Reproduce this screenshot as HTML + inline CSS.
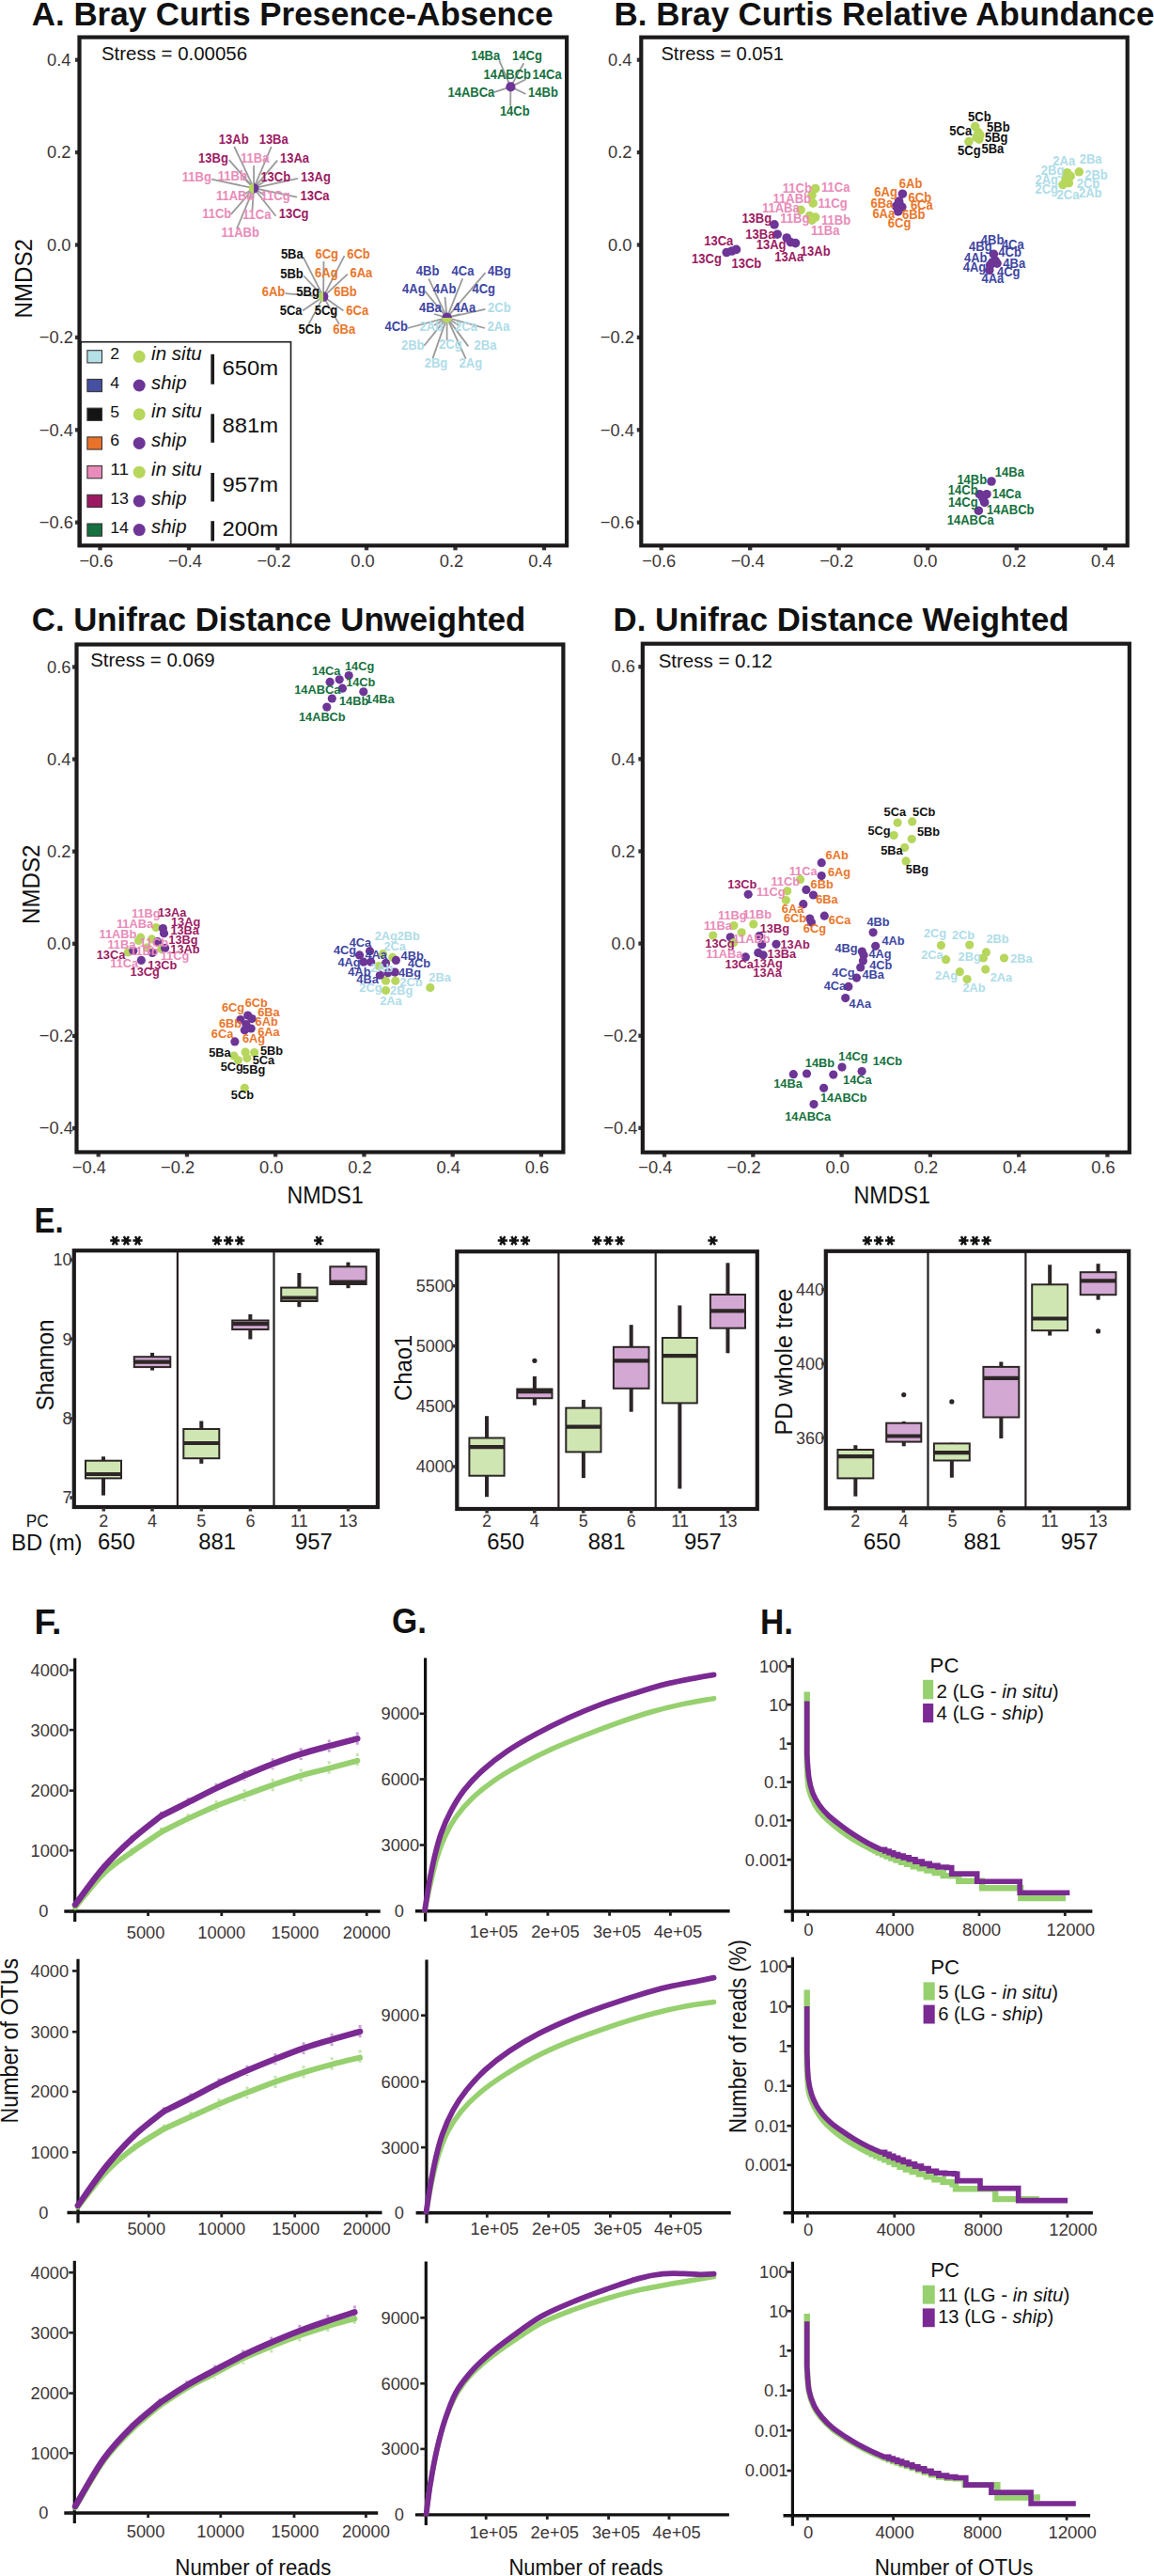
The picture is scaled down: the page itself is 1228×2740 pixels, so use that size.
<!DOCTYPE html>
<html><head><meta charset="utf-8"><title>Figure</title>
<style>html,body{margin:0;padding:0;background:#fff;}body{width:1228px;height:2740px;overflow:hidden;font-family:"Liberation Sans",sans-serif;}svg{display:block;}</style>
</head><body>
<svg width="1228" height="2740" viewBox="0 0 1228 2740" font-family="Liberation Sans, sans-serif"><rect width="1228" height="2740" fill="#fff"/><text x="33.8" y="26.6" font-size="34.6" fill="#111111" font-weight="bold" textLength="554.9" lengthAdjust="spacingAndGlyphs">A. Bray Curtis Presence-Absence</text>
<text x="108" y="64.2" font-size="20.3" fill="#111" textLength="155" lengthAdjust="spacingAndGlyphs">Stress = 0.00056</text>
<text transform="translate(34 296.3) rotate(-90)" font-size="26.5" fill="#111" text-anchor="middle" textLength="84.6" lengthAdjust="spacingAndGlyphs">NMDS2</text>
<line x1="270.1" y1="200.2" x2="249.3" y2="156" stroke="#9a9a9a" stroke-width="1.8"/>
<line x1="270.1" y1="200.2" x2="288.8" y2="156" stroke="#9a9a9a" stroke-width="1.8"/>
<line x1="270.1" y1="200.2" x2="243.8" y2="170.2" stroke="#9a9a9a" stroke-width="1.8"/>
<line x1="270.1" y1="200.2" x2="270.1" y2="175.9" stroke="#9a9a9a" stroke-width="1.8"/>
<line x1="270.1" y1="200.2" x2="295.2" y2="170.7" stroke="#9a9a9a" stroke-width="1.8"/>
<line x1="270.1" y1="200.2" x2="225" y2="190.7" stroke="#9a9a9a" stroke-width="1.8"/>
<line x1="270.1" y1="200.2" x2="316.9" y2="189.8" stroke="#9a9a9a" stroke-width="1.8"/>
<line x1="270.1" y1="200.2" x2="316" y2="209.7" stroke="#9a9a9a" stroke-width="1.8"/>
<line x1="270.1" y1="200.2" x2="245.9" y2="227.9" stroke="#9a9a9a" stroke-width="1.8"/>
<line x1="270.1" y1="200.2" x2="268.4" y2="224.5" stroke="#9a9a9a" stroke-width="1.8"/>
<line x1="270.1" y1="200.2" x2="293.5" y2="229.7" stroke="#9a9a9a" stroke-width="1.8"/>
<line x1="270.1" y1="200.2" x2="251.9" y2="243.5" stroke="#9a9a9a" stroke-width="1.8"/>
<line x1="270.1" y1="200.2" x2="259" y2="189" stroke="#9a9a9a" stroke-width="1.8"/>
<line x1="270.1" y1="200.2" x2="283" y2="192" stroke="#9a9a9a" stroke-width="1.8"/>
<line x1="270.1" y1="200.2" x2="258" y2="208" stroke="#9a9a9a" stroke-width="1.8"/>
<line x1="270.1" y1="200.2" x2="282" y2="208" stroke="#9a9a9a" stroke-width="1.8"/>
<path d="M270.1 194.9 A5.3 5.3 0 0 0 270.1 205.5 Z" fill="#b6d65c"/>
<path d="M270.1 194.9 A5.3 5.3 0 0 1 270.1 205.5 Z" fill="#6c3596"/>
<text x="248.7" y="153.4" font-size="14" fill="#9c1b63" font-weight="bold" text-anchor="middle" textLength="31.79" lengthAdjust="spacingAndGlyphs">13Ab</text>
<text x="291.2" y="153.4" font-size="14" fill="#9c1b63" font-weight="bold" text-anchor="middle" textLength="31.08" lengthAdjust="spacingAndGlyphs">13Ba</text>
<text x="227" y="172.5" font-size="14" fill="#9c1b63" font-weight="bold" text-anchor="middle" textLength="31.79" lengthAdjust="spacingAndGlyphs">13Bg</text>
<text x="271.2" y="172.5" font-size="14" fill="#e98bb9" font-weight="bold" text-anchor="middle" textLength="30.36" lengthAdjust="spacingAndGlyphs">11Ba</text>
<text x="313.5" y="173.3" font-size="14" fill="#9c1b63" font-weight="bold" text-anchor="middle" textLength="31.08" lengthAdjust="spacingAndGlyphs">13Aa</text>
<text x="209.3" y="193.3" font-size="14" fill="#e98bb9" font-weight="bold" text-anchor="middle" textLength="31.07" lengthAdjust="spacingAndGlyphs">11Bg</text>
<text x="247.4" y="192.4" font-size="14" fill="#e98bb9" font-weight="bold" text-anchor="middle" textLength="31.07" lengthAdjust="spacingAndGlyphs">11Bb</text>
<text x="293.3" y="193.3" font-size="14" fill="#9c1b63" font-weight="bold" text-anchor="middle" textLength="31.79" lengthAdjust="spacingAndGlyphs">13Cb</text>
<text x="336" y="193.3" font-size="14" fill="#9c1b63" font-weight="bold" text-anchor="middle" textLength="31.79" lengthAdjust="spacingAndGlyphs">13Ag</text>
<text x="249.8" y="213.2" font-size="14" fill="#e98bb9" font-weight="bold" text-anchor="middle" textLength="39.75" lengthAdjust="spacingAndGlyphs">11ABa</text>
<text x="293.1" y="213.2" font-size="14" fill="#e98bb9" font-weight="bold" text-anchor="middle" textLength="31.07" lengthAdjust="spacingAndGlyphs">11Cg</text>
<text x="335" y="212.8" font-size="14" fill="#9c1b63" font-weight="bold" text-anchor="middle" textLength="31.08" lengthAdjust="spacingAndGlyphs">13Ca</text>
<text x="230.7" y="232.3" font-size="14" fill="#e98bb9" font-weight="bold" text-anchor="middle" textLength="31.07" lengthAdjust="spacingAndGlyphs">11Cb</text>
<text x="273.3" y="233.1" font-size="14" fill="#e98bb9" font-weight="bold" text-anchor="middle" textLength="30.36" lengthAdjust="spacingAndGlyphs">11Ca</text>
<text x="312.6" y="232.3" font-size="14" fill="#9c1b63" font-weight="bold" text-anchor="middle" textLength="31.79" lengthAdjust="spacingAndGlyphs">13Cg</text>
<text x="255.7" y="252.2" font-size="14" fill="#e98bb9" font-weight="bold" text-anchor="middle" textLength="40.46" lengthAdjust="spacingAndGlyphs">11ABb</text>
<line x1="344.1" y1="315.6" x2="322.6" y2="273.4" stroke="#9a9a9a" stroke-width="1.8"/>
<line x1="344.1" y1="315.6" x2="344.5" y2="278" stroke="#9a9a9a" stroke-width="1.8"/>
<line x1="344.1" y1="315.6" x2="366.5" y2="272.1" stroke="#9a9a9a" stroke-width="1.8"/>
<line x1="344.1" y1="315.6" x2="323.3" y2="293.5" stroke="#9a9a9a" stroke-width="1.8"/>
<line x1="344.1" y1="315.6" x2="369.8" y2="291.6" stroke="#9a9a9a" stroke-width="1.8"/>
<line x1="344.1" y1="315.6" x2="303.5" y2="312.1" stroke="#9a9a9a" stroke-width="1.8"/>
<line x1="344.1" y1="315.6" x2="322" y2="330.6" stroke="#9a9a9a" stroke-width="1.8"/>
<line x1="344.1" y1="315.6" x2="365.5" y2="330.6" stroke="#9a9a9a" stroke-width="1.8"/>
<line x1="344.1" y1="315.6" x2="328.5" y2="344.9" stroke="#9a9a9a" stroke-width="1.8"/>
<line x1="344.1" y1="315.6" x2="361" y2="344.9" stroke="#9a9a9a" stroke-width="1.8"/>
<path d="M344.1 310.3 A5.3 5.3 0 0 0 344.1 320.9 Z" fill="#b6d65c"/>
<path d="M344.1 310.3 A5.3 5.3 0 0 1 344.1 320.9 Z" fill="#6c3596"/>
<text x="310.8" y="275.3" font-size="14" fill="#111111" font-weight="bold" text-anchor="middle" textLength="23.85" lengthAdjust="spacingAndGlyphs">5Ba</text>
<text x="347.7" y="274.7" font-size="14" fill="#e9772b" font-weight="bold" text-anchor="middle" textLength="24.56" lengthAdjust="spacingAndGlyphs">6Cg</text>
<text x="381.5" y="274.7" font-size="14" fill="#e9772b" font-weight="bold" text-anchor="middle" textLength="24.56" lengthAdjust="spacingAndGlyphs">6Cb</text>
<text x="310.5" y="295.5" font-size="14" fill="#111111" font-weight="bold" text-anchor="middle" textLength="24.56" lengthAdjust="spacingAndGlyphs">5Bb</text>
<text x="347.3" y="294.8" font-size="14" fill="#e9772b" font-weight="bold" text-anchor="middle" textLength="24.56" lengthAdjust="spacingAndGlyphs">6Ag</text>
<text x="384.4" y="294.8" font-size="14" fill="#e9772b" font-weight="bold" text-anchor="middle" textLength="23.85" lengthAdjust="spacingAndGlyphs">6Aa</text>
<text x="291" y="315" font-size="14" fill="#e9772b" font-weight="bold" text-anchor="middle" textLength="24.56" lengthAdjust="spacingAndGlyphs">6Ab</text>
<text x="327.6" y="315" font-size="14" fill="#111111" font-weight="bold" text-anchor="middle" textLength="24.56" lengthAdjust="spacingAndGlyphs">5Bg</text>
<text x="367.5" y="315" font-size="14" fill="#e9772b" font-weight="bold" text-anchor="middle" textLength="24.56" lengthAdjust="spacingAndGlyphs">6Bb</text>
<text x="309.6" y="335.1" font-size="14" fill="#111111" font-weight="bold" text-anchor="middle" textLength="23.85" lengthAdjust="spacingAndGlyphs">5Ca</text>
<text x="347" y="335.1" font-size="14" fill="#111111" font-weight="bold" text-anchor="middle" textLength="24.56" lengthAdjust="spacingAndGlyphs">5Cg</text>
<text x="380.2" y="334.5" font-size="14" fill="#e9772b" font-weight="bold" text-anchor="middle" textLength="23.85" lengthAdjust="spacingAndGlyphs">6Ca</text>
<text x="329.8" y="354.6" font-size="14" fill="#111111" font-weight="bold" text-anchor="middle" textLength="24.56" lengthAdjust="spacingAndGlyphs">5Cb</text>
<text x="366.2" y="354.6" font-size="14" fill="#e9772b" font-weight="bold" text-anchor="middle" textLength="23.85" lengthAdjust="spacingAndGlyphs">6Ba</text>
<line x1="475.6" y1="337.9" x2="456.2" y2="296.3" stroke="#9a9a9a" stroke-width="1.8"/>
<line x1="475.6" y1="337.9" x2="492.2" y2="296.3" stroke="#9a9a9a" stroke-width="1.8"/>
<line x1="475.6" y1="337.9" x2="516.5" y2="290.1" stroke="#9a9a9a" stroke-width="1.8"/>
<line x1="475.6" y1="337.9" x2="452" y2="309.5" stroke="#9a9a9a" stroke-width="1.8"/>
<line x1="475.6" y1="337.9" x2="473.5" y2="315.8" stroke="#9a9a9a" stroke-width="1.8"/>
<line x1="475.6" y1="337.9" x2="516.5" y2="328.9" stroke="#9a9a9a" stroke-width="1.8"/>
<line x1="475.6" y1="337.9" x2="434" y2="349" stroke="#9a9a9a" stroke-width="1.8"/>
<line x1="475.6" y1="337.9" x2="515.8" y2="349" stroke="#9a9a9a" stroke-width="1.8"/>
<line x1="475.6" y1="337.9" x2="451.3" y2="367.7" stroke="#9a9a9a" stroke-width="1.8"/>
<line x1="475.6" y1="337.9" x2="475.6" y2="362.2" stroke="#9a9a9a" stroke-width="1.8"/>
<line x1="475.6" y1="337.9" x2="498.4" y2="368.4" stroke="#9a9a9a" stroke-width="1.8"/>
<line x1="475.6" y1="337.9" x2="460.3" y2="381.6" stroke="#9a9a9a" stroke-width="1.8"/>
<line x1="475.6" y1="337.9" x2="495.7" y2="381.6" stroke="#9a9a9a" stroke-width="1.8"/>
<line x1="475.6" y1="337.9" x2="462" y2="334" stroke="#9a9a9a" stroke-width="1.8"/>
<line x1="475.6" y1="337.9" x2="490" y2="334" stroke="#9a9a9a" stroke-width="1.8"/>
<line x1="475.6" y1="337.9" x2="462" y2="346" stroke="#9a9a9a" stroke-width="1.8"/>
<line x1="475.6" y1="337.9" x2="488" y2="346" stroke="#9a9a9a" stroke-width="1.8"/>
<path d="M470.3 337.9 A5.3 5.3 0 0 1 480.9 337.9 Z" fill="#6c3596"/>
<path d="M470.3 337.9 A5.3 5.3 0 0 0 480.9 337.9 Z" fill="#b6d65c"/>
<text x="455.1" y="292.9" font-size="14" fill="#3e46a2" font-weight="bold" text-anchor="middle" textLength="24.56" lengthAdjust="spacingAndGlyphs">4Bb</text>
<text x="492.5" y="292.9" font-size="14" fill="#3e46a2" font-weight="bold" text-anchor="middle" textLength="23.85" lengthAdjust="spacingAndGlyphs">4Ca</text>
<text x="531.4" y="292.9" font-size="14" fill="#3e46a2" font-weight="bold" text-anchor="middle" textLength="24.56" lengthAdjust="spacingAndGlyphs">4Bg</text>
<text x="440.4" y="312.3" font-size="14" fill="#3e46a2" font-weight="bold" text-anchor="middle" textLength="24.56" lengthAdjust="spacingAndGlyphs">4Ag</text>
<text x="473.1" y="312.3" font-size="14" fill="#3e46a2" font-weight="bold" text-anchor="middle" textLength="24.56" lengthAdjust="spacingAndGlyphs">4Ab</text>
<text x="514.7" y="312.3" font-size="14" fill="#3e46a2" font-weight="bold" text-anchor="middle" textLength="24.56" lengthAdjust="spacingAndGlyphs">4Cg</text>
<text x="457.9" y="332.4" font-size="14" fill="#3e46a2" font-weight="bold" text-anchor="middle" textLength="23.85" lengthAdjust="spacingAndGlyphs">4Ba</text>
<text x="494.3" y="332.4" font-size="14" fill="#3e46a2" font-weight="bold" text-anchor="middle" textLength="23.85" lengthAdjust="spacingAndGlyphs">4Aa</text>
<text x="531.4" y="331.7" font-size="14" fill="#afdde8" font-weight="bold" text-anchor="middle" textLength="24.56" lengthAdjust="spacingAndGlyphs">2Cb</text>
<text x="421.7" y="351.8" font-size="14" fill="#3e46a2" font-weight="bold" text-anchor="middle" textLength="24.56" lengthAdjust="spacingAndGlyphs">4Cb</text>
<text x="458.9" y="351.8" font-size="14" fill="#afdde8" font-weight="bold" text-anchor="middle" textLength="24.56" lengthAdjust="spacingAndGlyphs">2Ab</text>
<text x="496" y="351.8" font-size="14" fill="#afdde8" font-weight="bold" text-anchor="middle" textLength="23.85" lengthAdjust="spacingAndGlyphs">2Ca</text>
<text x="530.5" y="351.8" font-size="14" fill="#afdde8" font-weight="bold" text-anchor="middle" textLength="23.85" lengthAdjust="spacingAndGlyphs">2Aa</text>
<text x="439.2" y="371.9" font-size="14" fill="#afdde8" font-weight="bold" text-anchor="middle" textLength="24.56" lengthAdjust="spacingAndGlyphs">2Bb</text>
<text x="479.4" y="371.2" font-size="14" fill="#afdde8" font-weight="bold" text-anchor="middle" textLength="24.56" lengthAdjust="spacingAndGlyphs">2Cg</text>
<text x="516.5" y="371.9" font-size="14" fill="#afdde8" font-weight="bold" text-anchor="middle" textLength="23.85" lengthAdjust="spacingAndGlyphs">2Ba</text>
<text x="464" y="390.6" font-size="14" fill="#afdde8" font-weight="bold" text-anchor="middle" textLength="24.56" lengthAdjust="spacingAndGlyphs">2Bg</text>
<text x="500.9" y="390.6" font-size="14" fill="#afdde8" font-weight="bold" text-anchor="middle" textLength="24.56" lengthAdjust="spacingAndGlyphs">2Ag</text>
<line x1="543.4" y1="92.4" x2="531.3" y2="64.3" stroke="#9a9a9a" stroke-width="1.8"/>
<line x1="543.4" y1="92.4" x2="557.3" y2="67.3" stroke="#9a9a9a" stroke-width="1.8"/>
<line x1="543.4" y1="92.4" x2="559.8" y2="84.3" stroke="#9a9a9a" stroke-width="1.8"/>
<line x1="543.4" y1="92.4" x2="525.8" y2="98.2" stroke="#9a9a9a" stroke-width="1.8"/>
<line x1="543.4" y1="92.4" x2="559.5" y2="100" stroke="#9a9a9a" stroke-width="1.8"/>
<line x1="543.4" y1="92.4" x2="543.2" y2="112.8" stroke="#9a9a9a" stroke-width="1.8"/>
<circle cx="543.4" cy="92.4" r="5.1" fill="#6c3596"/>
<text x="516.7" y="64.3" font-size="14" fill="#16713e" font-weight="bold" text-anchor="middle" textLength="31.08" lengthAdjust="spacingAndGlyphs">14Ba</text>
<text x="561" y="64.3" font-size="14" fill="#16713e" font-weight="bold" text-anchor="middle" textLength="31.79" lengthAdjust="spacingAndGlyphs">14Cg</text>
<text x="539.8" y="84.3" font-size="14" fill="#16713e" font-weight="bold" text-anchor="middle" textLength="50.57" lengthAdjust="spacingAndGlyphs">14ABCb</text>
<text x="582.1" y="83.9" font-size="14" fill="#16713e" font-weight="bold" text-anchor="middle" textLength="31.08" lengthAdjust="spacingAndGlyphs">14Ca</text>
<text x="501.4" y="103.3" font-size="14" fill="#16713e" font-weight="bold" text-anchor="middle" textLength="49.85" lengthAdjust="spacingAndGlyphs">14ABCa</text>
<text x="578" y="103.3" font-size="14" fill="#16713e" font-weight="bold" text-anchor="middle" textLength="31.79" lengthAdjust="spacingAndGlyphs">14Bb</text>
<text x="547.8" y="123.1" font-size="14" fill="#16713e" font-weight="bold" text-anchor="middle" textLength="31.79" lengthAdjust="spacingAndGlyphs">14Cb</text>
<rect x="86" y="363.7" width="223.5" height="216" fill="#fff" stroke="#1c1a1a" stroke-width="1.6"/>
<rect x="92.9" y="372.7" width="15.6" height="13.2" fill="#b4e0e8" stroke="#3a3434" stroke-width="1.1"/>
<text x="117.2" y="382.2" font-size="16" fill="#111" textLength="9.8" lengthAdjust="spacingAndGlyphs">2</text>
<circle cx="148.2" cy="379.3" r="6.5" fill="#b6d65c"/>
<text x="161.1" y="382.9" font-size="20.2" fill="#111" font-style="italic" textLength="53.7" lengthAdjust="spacingAndGlyphs">in situ</text>
<rect x="92.9" y="403.42" width="15.6" height="13.2" fill="#4650a0" stroke="#3a3434" stroke-width="1.1"/>
<text x="117.2" y="412.92" font-size="16" fill="#111" textLength="9.8" lengthAdjust="spacingAndGlyphs">4</text>
<circle cx="148.2" cy="410.02" r="6.5" fill="#6c3596"/>
<text x="161.1" y="413.62" font-size="20.2" fill="#111" font-style="italic" textLength="37.4" lengthAdjust="spacingAndGlyphs">ship</text>
<rect x="92.9" y="434.14" width="15.6" height="13.2" fill="#141414" stroke="#3a3434" stroke-width="1.1"/>
<text x="117.2" y="443.64" font-size="16" fill="#111" textLength="9.8" lengthAdjust="spacingAndGlyphs">5</text>
<circle cx="148.2" cy="440.74" r="6.5" fill="#b6d65c"/>
<text x="161.1" y="444.34" font-size="20.2" fill="#111" font-style="italic" textLength="53.7" lengthAdjust="spacingAndGlyphs">in situ</text>
<rect x="92.9" y="464.86" width="15.6" height="13.2" fill="#e8722a" stroke="#3a3434" stroke-width="1.1"/>
<text x="117.2" y="474.36" font-size="16" fill="#111" textLength="9.8" lengthAdjust="spacingAndGlyphs">6</text>
<circle cx="148.2" cy="471.46" r="6.5" fill="#6c3596"/>
<text x="161.1" y="475.06" font-size="20.2" fill="#111" font-style="italic" textLength="37.4" lengthAdjust="spacingAndGlyphs">ship</text>
<rect x="92.9" y="495.58" width="15.6" height="13.2" fill="#e98bbb" stroke="#3a3434" stroke-width="1.1"/>
<text x="117.2" y="505.08" font-size="16" fill="#111" textLength="19.8" lengthAdjust="spacingAndGlyphs">11</text>
<circle cx="148.2" cy="502.18" r="6.5" fill="#b6d65c"/>
<text x="161.1" y="505.78" font-size="20.2" fill="#111" font-style="italic" textLength="53.7" lengthAdjust="spacingAndGlyphs">in situ</text>
<rect x="92.9" y="526.3" width="15.6" height="13.2" fill="#9b1a62" stroke="#3a3434" stroke-width="1.1"/>
<text x="117.2" y="535.8" font-size="16" fill="#111" textLength="19.8" lengthAdjust="spacingAndGlyphs">13</text>
<circle cx="148.2" cy="532.9" r="6.5" fill="#6c3596"/>
<text x="161.1" y="536.5" font-size="20.2" fill="#111" font-style="italic" textLength="37.4" lengthAdjust="spacingAndGlyphs">ship</text>
<rect x="92.9" y="557.02" width="15.6" height="13.2" fill="#167040" stroke="#3a3434" stroke-width="1.1"/>
<text x="117.2" y="566.52" font-size="16" fill="#111" textLength="19.8" lengthAdjust="spacingAndGlyphs">14</text>
<circle cx="148.2" cy="563.62" r="6.5" fill="#6c3596"/>
<text x="161.1" y="567.22" font-size="20.2" fill="#111" font-style="italic" textLength="37.4" lengthAdjust="spacingAndGlyphs">ship</text>
<line x1="226.2" y1="376.8" x2="226.2" y2="408.7" stroke="#1c1a1a" stroke-width="3.7"/>
<text x="236.4" y="398.7" font-size="22.5" fill="#111" textLength="59.6" lengthAdjust="spacingAndGlyphs">650m</text>
<line x1="226.2" y1="440.3" x2="226.2" y2="470.8" stroke="#1c1a1a" stroke-width="3.7"/>
<text x="236.4" y="460.2" font-size="22.5" fill="#111" textLength="59.6" lengthAdjust="spacingAndGlyphs">881m</text>
<line x1="226.2" y1="503" x2="226.2" y2="533.5" stroke="#1c1a1a" stroke-width="3.7"/>
<text x="236.4" y="523" font-size="22.5" fill="#111" textLength="59.6" lengthAdjust="spacingAndGlyphs">957m</text>
<line x1="226.2" y1="554.2" x2="226.2" y2="575.5" stroke="#1c1a1a" stroke-width="3.7"/>
<text x="236.4" y="569.6" font-size="22.5" fill="#111" textLength="59.6" lengthAdjust="spacingAndGlyphs">200m</text>
<line x1="80" y1="63.7" x2="83.5" y2="63.7" stroke="#3a3434" stroke-width="4.3"/>
<text x="75.5" y="69.9" font-size="19.21" fill="#3d3636" text-anchor="end" textLength="25.44" lengthAdjust="spacingAndGlyphs">0.4</text>
<line x1="80" y1="162.1" x2="83.5" y2="162.1" stroke="#3a3434" stroke-width="4.3"/>
<text x="75.5" y="168.3" font-size="19.21" fill="#3d3636" text-anchor="end" textLength="25.44" lengthAdjust="spacingAndGlyphs">0.2</text>
<line x1="80" y1="260.5" x2="83.5" y2="260.5" stroke="#3a3434" stroke-width="4.3"/>
<text x="75.5" y="266.7" font-size="19.21" fill="#3d3636" text-anchor="end" textLength="25.44" lengthAdjust="spacingAndGlyphs">0.0</text>
<line x1="80" y1="358.9" x2="83.5" y2="358.9" stroke="#3a3434" stroke-width="4.3"/>
<text x="78" y="365.1" font-size="19.21" fill="#3d3636" text-anchor="end" textLength="36.13" lengthAdjust="spacingAndGlyphs">−0.2</text>
<line x1="80" y1="457.3" x2="83.5" y2="457.3" stroke="#3a3434" stroke-width="4.3"/>
<text x="78" y="463.5" font-size="19.21" fill="#3d3636" text-anchor="end" textLength="36.13" lengthAdjust="spacingAndGlyphs">−0.4</text>
<line x1="80" y1="555.7" x2="83.5" y2="555.7" stroke="#3a3434" stroke-width="4.3"/>
<text x="78" y="561.9" font-size="19.21" fill="#3d3636" text-anchor="end" textLength="36.13" lengthAdjust="spacingAndGlyphs">−0.6</text>
<line x1="106.5" y1="581.3" x2="106.5" y2="585.3" stroke="#3a3434" stroke-width="4.3"/>
<text x="102.5" y="602.6" font-size="19.21" fill="#3d3636" text-anchor="middle" textLength="36.13" lengthAdjust="spacingAndGlyphs">−0.6</text>
<line x1="201" y1="581.3" x2="201" y2="585.3" stroke="#3a3434" stroke-width="4.3"/>
<text x="197" y="602.6" font-size="19.21" fill="#3d3636" text-anchor="middle" textLength="36.13" lengthAdjust="spacingAndGlyphs">−0.4</text>
<line x1="295.5" y1="581.3" x2="295.5" y2="585.3" stroke="#3a3434" stroke-width="4.3"/>
<text x="291.5" y="602.6" font-size="19.21" fill="#3d3636" text-anchor="middle" textLength="36.13" lengthAdjust="spacingAndGlyphs">−0.2</text>
<line x1="390" y1="581.3" x2="390" y2="585.3" stroke="#3a3434" stroke-width="4.3"/>
<text x="386" y="602.6" font-size="19.21" fill="#3d3636" text-anchor="middle" textLength="25.44" lengthAdjust="spacingAndGlyphs">0.0</text>
<line x1="484.5" y1="581.3" x2="484.5" y2="585.3" stroke="#3a3434" stroke-width="4.3"/>
<text x="480.5" y="602.6" font-size="19.21" fill="#3d3636" text-anchor="middle" textLength="25.44" lengthAdjust="spacingAndGlyphs">0.2</text>
<line x1="579" y1="581.3" x2="579" y2="585.3" stroke="#3a3434" stroke-width="4.3"/>
<text x="575" y="602.6" font-size="19.21" fill="#3d3636" text-anchor="middle" textLength="25.44" lengthAdjust="spacingAndGlyphs">0.4</text>
<rect x="84.5" y="39.6" width="518.6" height="540.7" fill="none" stroke="#1c1a1a" stroke-width="4.2"/>
<text x="653.6" y="26.6" font-size="34.6" fill="#111111" font-weight="bold" textLength="574.86" lengthAdjust="spacingAndGlyphs">B. Bray Curtis Relative Abundance</text>
<text x="703.4" y="64.2" font-size="20.3" fill="#111" textLength="130.6" lengthAdjust="spacingAndGlyphs">Stress = 0.051</text>
<circle cx="773.2" cy="268.5" r="4.8" fill="#6c3596"/>
<circle cx="778.8" cy="267" r="4.8" fill="#6c3596"/>
<circle cx="783.5" cy="265.4" r="4.8" fill="#6c3596"/>
<circle cx="824" cy="238.9" r="4.8" fill="#6c3596"/>
<circle cx="827.2" cy="249.2" r="4.8" fill="#6c3596"/>
<circle cx="837.2" cy="253" r="4.8" fill="#6c3596"/>
<circle cx="841.2" cy="257.6" r="4.8" fill="#6c3596"/>
<circle cx="846.5" cy="258.6" r="4.8" fill="#6c3596"/>
<circle cx="867.7" cy="200.5" r="4.8" fill="#b6d65c"/>
<circle cx="864" cy="207.7" r="4.8" fill="#b6d65c"/>
<circle cx="865.2" cy="216.1" r="4.8" fill="#b6d65c"/>
<circle cx="852.1" cy="223.3" r="4.8" fill="#b6d65c"/>
<circle cx="861.5" cy="229.5" r="4.8" fill="#b6d65c"/>
<circle cx="867.7" cy="231.1" r="4.8" fill="#b6d65c"/>
<circle cx="864" cy="234.2" r="4.8" fill="#b6d65c"/>
<circle cx="960.4" cy="206.2" r="4.8" fill="#6c3596"/>
<circle cx="956.6" cy="214" r="4.8" fill="#6c3596"/>
<circle cx="953.5" cy="219.3" r="4.8" fill="#6c3596"/>
<circle cx="959.8" cy="220.2" r="4.8" fill="#6c3596"/>
<circle cx="955.7" cy="224.9" r="4.8" fill="#6c3596"/>
<circle cx="957" cy="217" r="4.8" fill="#6c3596"/>
<circle cx="1037.7" cy="134.6" r="4.8" fill="#b6d65c"/>
<circle cx="1041" cy="140.9" r="4.8" fill="#b6d65c"/>
<circle cx="1042.8" cy="143.7" r="4.8" fill="#b6d65c"/>
<circle cx="1041.9" cy="148.2" r="4.8" fill="#b6d65c"/>
<circle cx="1030.9" cy="150.6" r="4.8" fill="#b6d65c"/>
<circle cx="1039" cy="146" r="4.8" fill="#b6d65c"/>
<circle cx="1148.3" cy="182.8" r="4.8" fill="#b6d65c"/>
<circle cx="1135.6" cy="183.7" r="4.8" fill="#b6d65c"/>
<circle cx="1139.2" cy="187.4" r="4.8" fill="#b6d65c"/>
<circle cx="1137.4" cy="194.6" r="4.8" fill="#b6d65c"/>
<circle cx="1131" cy="196.5" r="4.8" fill="#b6d65c"/>
<circle cx="1134" cy="190" r="4.8" fill="#b6d65c"/>
<circle cx="1057.3" cy="270.2" r="4.8" fill="#6c3596"/>
<circle cx="1059.2" cy="277.4" r="4.8" fill="#6c3596"/>
<circle cx="1061" cy="280.2" r="4.8" fill="#6c3596"/>
<circle cx="1053.7" cy="282" r="4.8" fill="#6c3596"/>
<circle cx="1052.8" cy="287.4" r="4.8" fill="#6c3596"/>
<circle cx="1056" cy="279" r="4.8" fill="#6c3596"/>
<circle cx="1055" cy="512" r="4.8" fill="#6c3596"/>
<circle cx="1042.4" cy="525.7" r="4.8" fill="#6c3596"/>
<circle cx="1050" cy="525.7" r="4.8" fill="#6c3596"/>
<circle cx="1047.7" cy="534.4" r="4.8" fill="#6c3596"/>
<circle cx="1041.3" cy="543.2" r="4.8" fill="#6c3596"/>
<circle cx="1046" cy="530" r="4.8" fill="#6c3596"/>
<text x="848.4" y="204.6" font-size="14" fill="#e98bb9" font-weight="bold" text-anchor="middle" textLength="31.07" lengthAdjust="spacingAndGlyphs">11Cb</text>
<text x="889.3" y="203.7" font-size="14" fill="#e98bb9" font-weight="bold" text-anchor="middle" textLength="30.36" lengthAdjust="spacingAndGlyphs">11Ca</text>
<text x="842.8" y="215.5" font-size="14" fill="#e98bb9" font-weight="bold" text-anchor="middle" textLength="40.46" lengthAdjust="spacingAndGlyphs">11ABb</text>
<text x="886.1" y="221.1" font-size="14" fill="#e98bb9" font-weight="bold" text-anchor="middle" textLength="31.07" lengthAdjust="spacingAndGlyphs">11Cg</text>
<text x="830.8" y="226.4" font-size="14" fill="#e98bb9" font-weight="bold" text-anchor="middle" textLength="39.75" lengthAdjust="spacingAndGlyphs">11ABa</text>
<text x="805.3" y="236.7" font-size="14" fill="#9c1b63" font-weight="bold" text-anchor="middle" textLength="31.79" lengthAdjust="spacingAndGlyphs">13Bg</text>
<text x="845.9" y="236.7" font-size="14" fill="#e98bb9" font-weight="bold" text-anchor="middle" textLength="31.07" lengthAdjust="spacingAndGlyphs">11Bg</text>
<text x="889.6" y="238.9" font-size="14" fill="#e98bb9" font-weight="bold" text-anchor="middle" textLength="31.07" lengthAdjust="spacingAndGlyphs">11Bb</text>
<text x="808.9" y="253.9" font-size="14" fill="#9c1b63" font-weight="bold" text-anchor="middle" textLength="31.08" lengthAdjust="spacingAndGlyphs">13Ba</text>
<text x="878.2" y="249.8" font-size="14" fill="#e98bb9" font-weight="bold" text-anchor="middle" textLength="30.36" lengthAdjust="spacingAndGlyphs">11Ba</text>
<text x="764.8" y="260.7" font-size="14" fill="#9c1b63" font-weight="bold" text-anchor="middle" textLength="31.08" lengthAdjust="spacingAndGlyphs">13Ca</text>
<text x="820.6" y="264.8" font-size="14" fill="#9c1b63" font-weight="bold" text-anchor="middle" textLength="31.79" lengthAdjust="spacingAndGlyphs">13Ag</text>
<text x="867.7" y="271.7" font-size="14" fill="#9c1b63" font-weight="bold" text-anchor="middle" textLength="31.79" lengthAdjust="spacingAndGlyphs">13Ab</text>
<text x="752" y="279.5" font-size="14" fill="#9c1b63" font-weight="bold" text-anchor="middle" textLength="31.79" lengthAdjust="spacingAndGlyphs">13Cg</text>
<text x="839.7" y="277.9" font-size="14" fill="#9c1b63" font-weight="bold" text-anchor="middle" textLength="31.08" lengthAdjust="spacingAndGlyphs">13Aa</text>
<text x="794.4" y="284.8" font-size="14" fill="#9c1b63" font-weight="bold" text-anchor="middle" textLength="31.79" lengthAdjust="spacingAndGlyphs">13Cb</text>
<text x="969.1" y="199.9" font-size="14" fill="#e9772b" font-weight="bold" text-anchor="middle" textLength="24.56" lengthAdjust="spacingAndGlyphs">6Ab</text>
<text x="942.6" y="209.3" font-size="14" fill="#e9772b" font-weight="bold" text-anchor="middle" textLength="24.56" lengthAdjust="spacingAndGlyphs">6Ag</text>
<text x="978.9" y="214.9" font-size="14" fill="#e9772b" font-weight="bold" text-anchor="middle" textLength="24.56" lengthAdjust="spacingAndGlyphs">6Cb</text>
<text x="938.4" y="221.1" font-size="14" fill="#e9772b" font-weight="bold" text-anchor="middle" textLength="23.85" lengthAdjust="spacingAndGlyphs">6Ba</text>
<text x="980.8" y="223.3" font-size="14" fill="#e9772b" font-weight="bold" text-anchor="middle" textLength="23.85" lengthAdjust="spacingAndGlyphs">6Ca</text>
<text x="940.3" y="231.7" font-size="14" fill="#e9772b" font-weight="bold" text-anchor="middle" textLength="23.85" lengthAdjust="spacingAndGlyphs">6Aa</text>
<text x="972.2" y="232.7" font-size="14" fill="#e9772b" font-weight="bold" text-anchor="middle" textLength="24.56" lengthAdjust="spacingAndGlyphs">6Bb</text>
<text x="957.1" y="242" font-size="14" fill="#e9772b" font-weight="bold" text-anchor="middle" textLength="24.56" lengthAdjust="spacingAndGlyphs">6Cg</text>
<text x="1042.3" y="128.8" font-size="14" fill="#111111" font-weight="bold" text-anchor="middle" textLength="24.56" lengthAdjust="spacingAndGlyphs">5Cb</text>
<text x="1022.2" y="144" font-size="14" fill="#111111" font-weight="bold" text-anchor="middle" textLength="23.85" lengthAdjust="spacingAndGlyphs">5Ca</text>
<text x="1062.3" y="140" font-size="14" fill="#111111" font-weight="bold" text-anchor="middle" textLength="24.56" lengthAdjust="spacingAndGlyphs">5Bb</text>
<text x="1060.2" y="150.6" font-size="14" fill="#111111" font-weight="bold" text-anchor="middle" textLength="24.56" lengthAdjust="spacingAndGlyphs">5Bg</text>
<text x="1031.4" y="164.6" font-size="14" fill="#111111" font-weight="bold" text-anchor="middle" textLength="24.56" lengthAdjust="spacingAndGlyphs">5Cg</text>
<text x="1056.4" y="162.8" font-size="14" fill="#111111" font-weight="bold" text-anchor="middle" textLength="23.85" lengthAdjust="spacingAndGlyphs">5Ba</text>
<text x="1132.2" y="176.1" font-size="14" fill="#afdde8" font-weight="bold" text-anchor="middle" textLength="23.85" lengthAdjust="spacingAndGlyphs">2Aa</text>
<text x="1160.6" y="174.2" font-size="14" fill="#afdde8" font-weight="bold" text-anchor="middle" textLength="23.85" lengthAdjust="spacingAndGlyphs">2Ba</text>
<text x="1120.1" y="185.5" font-size="14" fill="#afdde8" font-weight="bold" text-anchor="middle" textLength="24.56" lengthAdjust="spacingAndGlyphs">2Bg</text>
<text x="1166.5" y="190.6" font-size="14" fill="#afdde8" font-weight="bold" text-anchor="middle" textLength="24.56" lengthAdjust="spacingAndGlyphs">2Bb</text>
<text x="1113.7" y="195.5" font-size="14" fill="#afdde8" font-weight="bold" text-anchor="middle" textLength="24.56" lengthAdjust="spacingAndGlyphs">2Ag</text>
<text x="1158" y="200.1" font-size="14" fill="#afdde8" font-weight="bold" text-anchor="middle" textLength="24.56" lengthAdjust="spacingAndGlyphs">2Cb</text>
<text x="1113.7" y="205.9" font-size="14" fill="#afdde8" font-weight="bold" text-anchor="middle" textLength="24.56" lengthAdjust="spacingAndGlyphs">2Cg</text>
<text x="1136.5" y="211.9" font-size="14" fill="#afdde8" font-weight="bold" text-anchor="middle" textLength="23.85" lengthAdjust="spacingAndGlyphs">2Ca</text>
<text x="1160.2" y="210.1" font-size="14" fill="#afdde8" font-weight="bold" text-anchor="middle" textLength="24.56" lengthAdjust="spacingAndGlyphs">2Ab</text>
<text x="1056.1" y="260.1" font-size="14" fill="#3e46a2" font-weight="bold" text-anchor="middle" textLength="24.56" lengthAdjust="spacingAndGlyphs">4Bb</text>
<text x="1077.8" y="264.7" font-size="14" fill="#3e46a2" font-weight="bold" text-anchor="middle" textLength="23.85" lengthAdjust="spacingAndGlyphs">4Ca</text>
<text x="1043.3" y="267.4" font-size="14" fill="#3e46a2" font-weight="bold" text-anchor="middle" textLength="24.56" lengthAdjust="spacingAndGlyphs">4Bg</text>
<text x="1074.6" y="272.9" font-size="14" fill="#3e46a2" font-weight="bold" text-anchor="middle" textLength="24.56" lengthAdjust="spacingAndGlyphs">4Cb</text>
<text x="1038.2" y="279.3" font-size="14" fill="#3e46a2" font-weight="bold" text-anchor="middle" textLength="24.56" lengthAdjust="spacingAndGlyphs">4Ab</text>
<text x="1079.2" y="284.7" font-size="14" fill="#3e46a2" font-weight="bold" text-anchor="middle" textLength="23.85" lengthAdjust="spacingAndGlyphs">4Ba</text>
<text x="1037" y="289.3" font-size="14" fill="#3e46a2" font-weight="bold" text-anchor="middle" textLength="24.56" lengthAdjust="spacingAndGlyphs">4Ag</text>
<text x="1073.2" y="293.8" font-size="14" fill="#3e46a2" font-weight="bold" text-anchor="middle" textLength="24.56" lengthAdjust="spacingAndGlyphs">4Cg</text>
<text x="1056.4" y="300.5" font-size="14" fill="#3e46a2" font-weight="bold" text-anchor="middle" textLength="23.85" lengthAdjust="spacingAndGlyphs">4Aa</text>
<text x="1074.4" y="507" font-size="14" fill="#16713e" font-weight="bold" text-anchor="middle" textLength="31.08" lengthAdjust="spacingAndGlyphs">14Ba</text>
<text x="1034.3" y="514.6" font-size="14" fill="#16713e" font-weight="bold" text-anchor="middle" textLength="31.79" lengthAdjust="spacingAndGlyphs">14Bb</text>
<text x="1024.7" y="526.3" font-size="14" fill="#16713e" font-weight="bold" text-anchor="middle" textLength="31.79" lengthAdjust="spacingAndGlyphs">14Cb</text>
<text x="1071.2" y="529.8" font-size="14" fill="#16713e" font-weight="bold" text-anchor="middle" textLength="31.08" lengthAdjust="spacingAndGlyphs">14Ca</text>
<text x="1024.8" y="539" font-size="14" fill="#16713e" font-weight="bold" text-anchor="middle" textLength="31.79" lengthAdjust="spacingAndGlyphs">14Cg</text>
<text x="1075.3" y="547.2" font-size="14" fill="#16713e" font-weight="bold" text-anchor="middle" textLength="50.57" lengthAdjust="spacingAndGlyphs">14ABCb</text>
<text x="1032.7" y="558.3" font-size="14" fill="#16713e" font-weight="bold" text-anchor="middle" textLength="49.85" lengthAdjust="spacingAndGlyphs">14ABCa</text>
<line x1="677.8" y1="63.7" x2="681.3" y2="63.7" stroke="#3a3434" stroke-width="4.3"/>
<text x="672.5" y="69.9" font-size="19.21" fill="#3d3636" text-anchor="end" textLength="25.44" lengthAdjust="spacingAndGlyphs">0.4</text>
<line x1="677.8" y1="162.1" x2="681.3" y2="162.1" stroke="#3a3434" stroke-width="4.3"/>
<text x="672.5" y="168.3" font-size="19.21" fill="#3d3636" text-anchor="end" textLength="25.44" lengthAdjust="spacingAndGlyphs">0.2</text>
<line x1="677.8" y1="260.5" x2="681.3" y2="260.5" stroke="#3a3434" stroke-width="4.3"/>
<text x="672.5" y="266.7" font-size="19.21" fill="#3d3636" text-anchor="end" textLength="25.44" lengthAdjust="spacingAndGlyphs">0.0</text>
<line x1="677.8" y1="358.9" x2="681.3" y2="358.9" stroke="#3a3434" stroke-width="4.3"/>
<text x="675" y="365.1" font-size="19.21" fill="#3d3636" text-anchor="end" textLength="36.13" lengthAdjust="spacingAndGlyphs">−0.2</text>
<line x1="677.8" y1="457.3" x2="681.3" y2="457.3" stroke="#3a3434" stroke-width="4.3"/>
<text x="675" y="463.5" font-size="19.21" fill="#3d3636" text-anchor="end" textLength="36.13" lengthAdjust="spacingAndGlyphs">−0.4</text>
<line x1="677.8" y1="555.7" x2="681.3" y2="555.7" stroke="#3a3434" stroke-width="4.3"/>
<text x="675" y="561.9" font-size="19.21" fill="#3d3636" text-anchor="end" textLength="36.13" lengthAdjust="spacingAndGlyphs">−0.6</text>
<line x1="703.7" y1="581.3" x2="703.7" y2="585.3" stroke="#3a3434" stroke-width="4.3"/>
<text x="701.2" y="602.6" font-size="19.21" fill="#3d3636" text-anchor="middle" textLength="36.13" lengthAdjust="spacingAndGlyphs">−0.6</text>
<line x1="798.2" y1="581.3" x2="798.2" y2="585.3" stroke="#3a3434" stroke-width="4.3"/>
<text x="795.7" y="602.6" font-size="19.21" fill="#3d3636" text-anchor="middle" textLength="36.13" lengthAdjust="spacingAndGlyphs">−0.4</text>
<line x1="892.7" y1="581.3" x2="892.7" y2="585.3" stroke="#3a3434" stroke-width="4.3"/>
<text x="890.2" y="602.6" font-size="19.21" fill="#3d3636" text-anchor="middle" textLength="36.13" lengthAdjust="spacingAndGlyphs">−0.2</text>
<line x1="987.2" y1="581.3" x2="987.2" y2="585.3" stroke="#3a3434" stroke-width="4.3"/>
<text x="984.7" y="602.6" font-size="19.21" fill="#3d3636" text-anchor="middle" textLength="25.44" lengthAdjust="spacingAndGlyphs">0.0</text>
<line x1="1081.7" y1="581.3" x2="1081.7" y2="585.3" stroke="#3a3434" stroke-width="4.3"/>
<text x="1079.2" y="602.6" font-size="19.21" fill="#3d3636" text-anchor="middle" textLength="25.44" lengthAdjust="spacingAndGlyphs">0.2</text>
<line x1="1176.2" y1="581.3" x2="1176.2" y2="585.3" stroke="#3a3434" stroke-width="4.3"/>
<text x="1173.7" y="602.6" font-size="19.21" fill="#3d3636" text-anchor="middle" textLength="25.44" lengthAdjust="spacingAndGlyphs">0.4</text>
<rect x="682.3" y="39.7" width="517.4" height="540.6" fill="none" stroke="#1c1a1a" stroke-width="4.2"/>
<text x="33.8" y="671.2" font-size="34.6" fill="#111111" font-weight="bold" textLength="525.5" lengthAdjust="spacingAndGlyphs">C. Unifrac Distance Unweighted</text>
<text x="96.2" y="708.9" font-size="20.3" fill="#111" textLength="132.5" lengthAdjust="spacingAndGlyphs">Stress = 0.069</text>
<text transform="translate(41.9 940.8) rotate(-90)" font-size="26.5" fill="#111" text-anchor="middle" textLength="84.2" lengthAdjust="spacingAndGlyphs">NMDS2</text>
<text x="305.4" y="1279.5" font-size="26.3" fill="#111" textLength="81.3" lengthAdjust="spacingAndGlyphs">NMDS1</text>
<circle cx="351.1" cy="725.4" r="4.6" fill="#6c3596"/>
<circle cx="361.2" cy="722.8" r="4.6" fill="#6c3596"/>
<circle cx="371.2" cy="718.6" r="4.6" fill="#6c3596"/>
<circle cx="364.4" cy="732.2" r="4.6" fill="#6c3596"/>
<circle cx="386.8" cy="735.8" r="4.6" fill="#6c3596"/>
<circle cx="353.3" cy="743" r="4.6" fill="#6c3596"/>
<circle cx="347.8" cy="752.1" r="4.6" fill="#6c3596"/>
<circle cx="166" cy="986.5" r="4.6" fill="#b6d65c"/>
<circle cx="149.7" cy="997.2" r="4.6" fill="#b6d65c"/>
<circle cx="147.5" cy="1000.6" r="4.6" fill="#b6d65c"/>
<circle cx="161.5" cy="998.9" r="4.6" fill="#b6d65c"/>
<circle cx="136.2" cy="1012.9" r="4.6" fill="#b6d65c"/>
<circle cx="156.5" cy="1007.9" r="4.6" fill="#b6d65c"/>
<circle cx="171.7" cy="1009.6" r="4.6" fill="#b6d65c"/>
<circle cx="173.4" cy="987.6" r="4.6" fill="#6c3596"/>
<circle cx="174.5" cy="992.7" r="4.6" fill="#6c3596"/>
<circle cx="167.7" cy="1001.7" r="4.6" fill="#6c3596"/>
<circle cx="175.6" cy="1008.4" r="4.6" fill="#6c3596"/>
<circle cx="141.8" cy="1011.3" r="4.6" fill="#6c3596"/>
<circle cx="162.1" cy="1013.5" r="4.6" fill="#6c3596"/>
<circle cx="150.3" cy="1021.4" r="4.6" fill="#6c3596"/>
<circle cx="263.7" cy="1080.1" r="4.6" fill="#6c3596"/>
<circle cx="255.9" cy="1084.5" r="4.6" fill="#6c3596"/>
<circle cx="268.1" cy="1083.6" r="4.6" fill="#6c3596"/>
<circle cx="262" cy="1089.7" r="4.6" fill="#6c3596"/>
<circle cx="267.2" cy="1094" r="4.6" fill="#6c3596"/>
<circle cx="260.3" cy="1095.7" r="4.6" fill="#6c3596"/>
<circle cx="249.9" cy="1107.9" r="4.6" fill="#6c3596"/>
<circle cx="249" cy="1123" r="4.6" fill="#b6d65c"/>
<circle cx="253.3" cy="1127.8" r="4.6" fill="#b6d65c"/>
<circle cx="261.1" cy="1119.1" r="4.6" fill="#b6d65c"/>
<circle cx="270.7" cy="1119.6" r="4.6" fill="#b6d65c"/>
<circle cx="262.9" cy="1125.6" r="4.6" fill="#b6d65c"/>
<circle cx="260.3" cy="1157.3" r="4.6" fill="#b6d65c"/>
<circle cx="407.5" cy="1014.7" r="4.6" fill="#b6d65c"/>
<circle cx="417.8" cy="1018.4" r="4.6" fill="#b6d65c"/>
<circle cx="403.2" cy="1027.5" r="4.6" fill="#b6d65c"/>
<circle cx="410.5" cy="1043.2" r="4.6" fill="#b6d65c"/>
<circle cx="420.8" cy="1043.2" r="4.6" fill="#b6d65c"/>
<circle cx="410.5" cy="1053.5" r="4.6" fill="#b6d65c"/>
<circle cx="457.8" cy="1050.5" r="4.6" fill="#b6d65c"/>
<circle cx="393.5" cy="1011.7" r="4.6" fill="#6c3596"/>
<circle cx="382.6" cy="1015.9" r="4.6" fill="#6c3596"/>
<circle cx="386.9" cy="1023.2" r="4.6" fill="#6c3596"/>
<circle cx="394.7" cy="1023.2" r="4.6" fill="#6c3596"/>
<circle cx="410.5" cy="1024.4" r="4.6" fill="#6c3596"/>
<circle cx="421.4" cy="1021.4" r="4.6" fill="#6c3596"/>
<circle cx="420.2" cy="1034.1" r="4.6" fill="#6c3596"/>
<circle cx="404.4" cy="1037.2" r="4.6" fill="#6c3596"/>
<circle cx="412.9" cy="1034.7" r="4.6" fill="#6c3596"/>
<text x="347.2" y="717.6" font-size="12.8" fill="#16713e" font-weight="bold" text-anchor="middle">14Ca</text>
<text x="382.6" y="712.7" font-size="12.8" fill="#16713e" font-weight="bold" text-anchor="middle">14Cg</text>
<text x="383.8" y="730.3" font-size="12.8" fill="#16713e" font-weight="bold" text-anchor="middle">14Cb</text>
<text x="337.8" y="738.4" font-size="12.8" fill="#16713e" font-weight="bold" text-anchor="middle">14ABCa</text>
<text x="404.4" y="747.8" font-size="12.8" fill="#16713e" font-weight="bold" text-anchor="middle">14Ba</text>
<text x="376.6" y="750.4" font-size="12.8" fill="#16713e" font-weight="bold" text-anchor="middle">14Bb</text>
<text x="342.8" y="766.7" font-size="12.8" fill="#16713e" font-weight="bold" text-anchor="middle">14ABCb</text>
<text x="155.3" y="976.3" font-size="12.8" fill="#e98bb9" font-weight="bold" text-anchor="middle">11Bg</text>
<text x="183.2" y="975.2" font-size="12.8" fill="#9c1b63" font-weight="bold" text-anchor="middle">13Aa</text>
<text x="143.5" y="987" font-size="12.8" fill="#e98bb9" font-weight="bold" text-anchor="middle">11ABa</text>
<text x="197.6" y="985.3" font-size="12.8" fill="#9c1b63" font-weight="bold" text-anchor="middle">13Ag</text>
<text x="125.5" y="997.7" font-size="12.8" fill="#e98bb9" font-weight="bold" text-anchor="middle">11ABb</text>
<text x="196.7" y="994.4" font-size="12.8" fill="#9c1b63" font-weight="bold" text-anchor="middle">13Ba</text>
<text x="129.4" y="1009" font-size="12.8" fill="#e98bb9" font-weight="bold" text-anchor="middle">11Ba</text>
<text x="163.8" y="1006.7" font-size="12.8" fill="#e98bb9" font-weight="bold" text-anchor="middle">11Cb</text>
<text x="195" y="1003.9" font-size="12.8" fill="#9c1b63" font-weight="bold" text-anchor="middle">13Bg</text>
<text x="118" y="1020.3" font-size="12.8" fill="#9c1b63" font-weight="bold" text-anchor="middle">13Ca</text>
<text x="153.4" y="1016.3" font-size="12.8" fill="#e98bb9" font-weight="bold" text-anchor="middle">11Bb</text>
<text x="197" y="1014.1" font-size="12.8" fill="#9c1b63" font-weight="bold" text-anchor="middle">13Ab</text>
<text x="186" y="1021.4" font-size="12.8" fill="#e98bb9" font-weight="bold" text-anchor="middle">11Cg</text>
<text x="132.2" y="1028.7" font-size="12.8" fill="#e98bb9" font-weight="bold" text-anchor="middle">11Ca</text>
<text x="172.8" y="1031" font-size="12.8" fill="#9c1b63" font-weight="bold" text-anchor="middle">13Cb</text>
<text x="154.2" y="1037.7" font-size="12.8" fill="#9c1b63" font-weight="bold" text-anchor="middle">13Cg</text>
<text x="248.1" y="1075.8" font-size="12.8" fill="#e9772b" font-weight="bold" text-anchor="middle">6Cg</text>
<text x="272.8" y="1071" font-size="12.8" fill="#e9772b" font-weight="bold" text-anchor="middle">6Cb</text>
<text x="286" y="1081" font-size="12.8" fill="#e9772b" font-weight="bold" text-anchor="middle">6Ba</text>
<text x="245.1" y="1093.1" font-size="12.8" fill="#e9772b" font-weight="bold" text-anchor="middle">6Bb</text>
<text x="283.7" y="1090.5" font-size="12.8" fill="#e9772b" font-weight="bold" text-anchor="middle">6Ab</text>
<text x="236.6" y="1104" font-size="12.8" fill="#e9772b" font-weight="bold" text-anchor="middle">6Ca</text>
<text x="286" y="1101.8" font-size="12.8" fill="#e9772b" font-weight="bold" text-anchor="middle">6Aa</text>
<text x="270" y="1108.7" font-size="12.8" fill="#e9772b" font-weight="bold" text-anchor="middle">6Ag</text>
<text x="234" y="1123.5" font-size="12.8" fill="#111111" font-weight="bold" text-anchor="middle">5Ba</text>
<text x="289.1" y="1122.2" font-size="12.8" fill="#111111" font-weight="bold" text-anchor="middle">5Bb</text>
<text x="280.4" y="1131.7" font-size="12.8" fill="#111111" font-weight="bold" text-anchor="middle">5Ca</text>
<text x="246.8" y="1139" font-size="12.8" fill="#111111" font-weight="bold" text-anchor="middle">5Cg</text>
<text x="270.2" y="1142.1" font-size="12.8" fill="#111111" font-weight="bold" text-anchor="middle">5Bg</text>
<text x="257.9" y="1168.5" font-size="12.8" fill="#111111" font-weight="bold" text-anchor="middle">5Cb</text>
<text x="410.8" y="1000.2" font-size="12.8" fill="#afdde8" font-weight="bold" text-anchor="middle">2Ag</text>
<text x="434.8" y="1000.2" font-size="12.8" fill="#afdde8" font-weight="bold" text-anchor="middle">2Bb</text>
<text x="383.5" y="1006.8" font-size="12.8" fill="#3e46a2" font-weight="bold" text-anchor="middle">4Ca</text>
<text x="420.2" y="1010.5" font-size="12.8" fill="#afdde8" font-weight="bold" text-anchor="middle">2Ca</text>
<text x="367.1" y="1014.7" font-size="12.8" fill="#3e46a2" font-weight="bold" text-anchor="middle">4Cg</text>
<text x="400.2" y="1020.2" font-size="12.8" fill="#3e46a2" font-weight="bold" text-anchor="middle">4Aa</text>
<text x="438.7" y="1021.4" font-size="12.8" fill="#3e46a2" font-weight="bold" text-anchor="middle">4Bb</text>
<text x="371.5" y="1027.5" font-size="12.8" fill="#3e46a2" font-weight="bold" text-anchor="middle">4Ag</text>
<text x="446" y="1029.3" font-size="12.8" fill="#3e46a2" font-weight="bold" text-anchor="middle">4Cb</text>
<text x="406.3" y="1034.1" font-size="12.8" fill="#afdde8" font-weight="bold" text-anchor="middle">2Ab</text>
<text x="382.4" y="1037.8" font-size="12.8" fill="#3e46a2" font-weight="bold" text-anchor="middle">4Ab</text>
<text x="436" y="1039" font-size="12.8" fill="#3e46a2" font-weight="bold" text-anchor="middle">4Bg</text>
<text x="468.1" y="1043.8" font-size="12.8" fill="#afdde8" font-weight="bold" text-anchor="middle">2Ba</text>
<text x="391.1" y="1046.3" font-size="12.8" fill="#3e46a2" font-weight="bold" text-anchor="middle">4Ba</text>
<text x="437.6" y="1048.7" font-size="12.8" fill="#afdde8" font-weight="bold" text-anchor="middle">2Cb</text>
<text x="394.4" y="1055.4" font-size="12.8" fill="#afdde8" font-weight="bold" text-anchor="middle">2Cg</text>
<text x="427.2" y="1057.8" font-size="12.8" fill="#afdde8" font-weight="bold" text-anchor="middle">2Bg</text>
<text x="416" y="1068.7" font-size="12.8" fill="#afdde8" font-weight="bold" text-anchor="middle">2Aa</text>
<line x1="77" y1="709.44" x2="80.5" y2="709.44" stroke="#3a3434" stroke-width="4.3"/>
<text x="75.5" y="715.64" font-size="19.21" fill="#3d3636" text-anchor="end" textLength="25.44" lengthAdjust="spacingAndGlyphs">0.6</text>
<line x1="77" y1="807.56" x2="80.5" y2="807.56" stroke="#3a3434" stroke-width="4.3"/>
<text x="75.5" y="813.76" font-size="19.21" fill="#3d3636" text-anchor="end" textLength="25.44" lengthAdjust="spacingAndGlyphs">0.4</text>
<line x1="77" y1="905.68" x2="80.5" y2="905.68" stroke="#3a3434" stroke-width="4.3"/>
<text x="75.5" y="911.88" font-size="19.21" fill="#3d3636" text-anchor="end" textLength="25.44" lengthAdjust="spacingAndGlyphs">0.2</text>
<line x1="77" y1="1003.8" x2="80.5" y2="1003.8" stroke="#3a3434" stroke-width="4.3"/>
<text x="75.5" y="1010" font-size="19.21" fill="#3d3636" text-anchor="end" textLength="25.44" lengthAdjust="spacingAndGlyphs">0.0</text>
<line x1="77" y1="1101.92" x2="80.5" y2="1101.92" stroke="#3a3434" stroke-width="4.3"/>
<text x="78" y="1108.12" font-size="19.21" fill="#3d3636" text-anchor="end" textLength="36.13" lengthAdjust="spacingAndGlyphs">−0.2</text>
<line x1="77" y1="1200.04" x2="80.5" y2="1200.04" stroke="#3a3434" stroke-width="4.3"/>
<text x="78" y="1206.24" font-size="19.21" fill="#3d3636" text-anchor="end" textLength="36.13" lengthAdjust="spacingAndGlyphs">−0.4</text>
<line x1="104.72" y1="1226.5" x2="104.72" y2="1230.5" stroke="#3a3434" stroke-width="4.3"/>
<text x="112.92" y="1247.7" font-size="19.21" fill="#3d3636" text-anchor="end" textLength="36.13" lengthAdjust="spacingAndGlyphs">−0.4</text>
<line x1="198.96" y1="1226.5" x2="198.96" y2="1230.5" stroke="#3a3434" stroke-width="4.3"/>
<text x="207.16" y="1247.7" font-size="19.21" fill="#3d3636" text-anchor="end" textLength="36.13" lengthAdjust="spacingAndGlyphs">−0.2</text>
<line x1="293.2" y1="1226.5" x2="293.2" y2="1230.5" stroke="#3a3434" stroke-width="4.3"/>
<text x="301.4" y="1247.7" font-size="19.21" fill="#3d3636" text-anchor="end" textLength="25.44" lengthAdjust="spacingAndGlyphs">0.0</text>
<line x1="387.44" y1="1226.5" x2="387.44" y2="1230.5" stroke="#3a3434" stroke-width="4.3"/>
<text x="395.64" y="1247.7" font-size="19.21" fill="#3d3636" text-anchor="end" textLength="25.44" lengthAdjust="spacingAndGlyphs">0.2</text>
<line x1="481.68" y1="1226.5" x2="481.68" y2="1230.5" stroke="#3a3434" stroke-width="4.3"/>
<text x="489.88" y="1247.7" font-size="19.21" fill="#3d3636" text-anchor="end" textLength="25.44" lengthAdjust="spacingAndGlyphs">0.4</text>
<line x1="575.92" y1="1226.5" x2="575.92" y2="1230.5" stroke="#3a3434" stroke-width="4.3"/>
<text x="584.12" y="1247.7" font-size="19.21" fill="#3d3636" text-anchor="end" textLength="25.44" lengthAdjust="spacingAndGlyphs">0.6</text>
<rect x="81.5" y="685.5" width="517.9" height="540" fill="none" stroke="#1c1a1a" stroke-width="4.2"/>
<text x="652.6" y="671.2" font-size="34.6" fill="#111111" font-weight="bold" textLength="485" lengthAdjust="spacingAndGlyphs">D. Unifrac Distance Weighted</text>
<text x="700.7" y="709.9" font-size="20.3" fill="#111" textLength="121.3" lengthAdjust="spacingAndGlyphs">Stress = 0.12</text>
<text x="908.6" y="1279.5" font-size="26.3" fill="#111" textLength="81.3" lengthAdjust="spacingAndGlyphs">NMDS1</text>
<circle cx="874.2" cy="917.7" r="4.6" fill="#6c3596"/>
<circle cx="874.2" cy="931.6" r="4.6" fill="#6c3596"/>
<circle cx="857.9" cy="946.4" r="4.6" fill="#6c3596"/>
<circle cx="865.5" cy="952" r="4.6" fill="#6c3596"/>
<circle cx="854.8" cy="961.7" r="4.6" fill="#6c3596"/>
<circle cx="877.3" cy="974.2" r="4.6" fill="#6c3596"/>
<circle cx="861.7" cy="977" r="4.6" fill="#6c3596"/>
<circle cx="863.4" cy="981.1" r="4.6" fill="#6c3596"/>
<circle cx="796.2" cy="951.3" r="4.6" fill="#6c3596"/>
<circle cx="777.2" cy="996.8" r="4.6" fill="#6c3596"/>
<circle cx="807.9" cy="995.7" r="4.6" fill="#6c3596"/>
<circle cx="810.7" cy="1004.7" r="4.6" fill="#6c3596"/>
<circle cx="826" cy="1004.3" r="4.6" fill="#6c3596"/>
<circle cx="806.8" cy="1013.4" r="4.6" fill="#6c3596"/>
<circle cx="812.1" cy="1015.8" r="4.6" fill="#6c3596"/>
<circle cx="793.4" cy="1017.9" r="4.6" fill="#6c3596"/>
<circle cx="851.6" cy="935.4" r="4.6" fill="#b6d65c"/>
<circle cx="837.7" cy="947.8" r="4.6" fill="#b6d65c"/>
<circle cx="836.4" cy="957.5" r="4.6" fill="#b6d65c"/>
<circle cx="801.7" cy="982.9" r="4.6" fill="#b6d65c"/>
<circle cx="780.9" cy="984.6" r="4.6" fill="#b6d65c"/>
<circle cx="789.2" cy="991.8" r="4.6" fill="#b6d65c"/>
<circle cx="758.7" cy="995" r="4.6" fill="#b6d65c"/>
<circle cx="780.9" cy="1002.6" r="4.6" fill="#b6d65c"/>
<circle cx="955.1" cy="875.1" r="4.6" fill="#b6d65c"/>
<circle cx="970.7" cy="873.9" r="4.6" fill="#b6d65c"/>
<circle cx="951.1" cy="888.5" r="4.6" fill="#b6d65c"/>
<circle cx="970.2" cy="892.5" r="4.6" fill="#b6d65c"/>
<circle cx="962.7" cy="901.5" r="4.6" fill="#b6d65c"/>
<circle cx="964.1" cy="915.9" r="4.6" fill="#b6d65c"/>
<circle cx="929.1" cy="991.8" r="4.6" fill="#6c3596"/>
<circle cx="931.7" cy="1006.3" r="4.6" fill="#6c3596"/>
<circle cx="917.3" cy="1012" r="4.6" fill="#6c3596"/>
<circle cx="919.1" cy="1016" r="4.6" fill="#6c3596"/>
<circle cx="918.4" cy="1022" r="4.6" fill="#6c3596"/>
<circle cx="915.7" cy="1029" r="4.6" fill="#6c3596"/>
<circle cx="911.5" cy="1040.1" r="4.6" fill="#6c3596"/>
<circle cx="902.9" cy="1049.4" r="4.6" fill="#6c3596"/>
<circle cx="899.7" cy="1061.6" r="4.6" fill="#6c3596"/>
<circle cx="1001.4" cy="1005.6" r="4.6" fill="#b6d65c"/>
<circle cx="1031.7" cy="1005.1" r="4.6" fill="#b6d65c"/>
<circle cx="1049.4" cy="1012.9" r="4.6" fill="#b6d65c"/>
<circle cx="1046.4" cy="1019" r="4.6" fill="#b6d65c"/>
<circle cx="1006.6" cy="1020.7" r="4.6" fill="#b6d65c"/>
<circle cx="1068.5" cy="1019" r="4.6" fill="#b6d65c"/>
<circle cx="1021.3" cy="1033.7" r="4.6" fill="#b6d65c"/>
<circle cx="1048.7" cy="1031.1" r="4.6" fill="#b6d65c"/>
<circle cx="1029.1" cy="1041.5" r="4.6" fill="#b6d65c"/>
<circle cx="896" cy="1135.1" r="4.6" fill="#6c3596"/>
<circle cx="917.1" cy="1139.5" r="4.6" fill="#6c3596"/>
<circle cx="844.3" cy="1142.7" r="4.6" fill="#6c3596"/>
<circle cx="858.5" cy="1142" r="4.6" fill="#6c3596"/>
<circle cx="886.8" cy="1143.1" r="4.6" fill="#6c3596"/>
<circle cx="876.6" cy="1157.3" r="4.6" fill="#6c3596"/>
<circle cx="866" cy="1174.6" r="4.6" fill="#6c3596"/>
<text x="890.7" y="914" font-size="12.8" fill="#e9772b" font-weight="bold" text-anchor="middle">6Ab</text>
<text x="854.6" y="930.5" font-size="12.8" fill="#e98bb9" font-weight="bold" text-anchor="middle">11Ca</text>
<text x="893" y="931.6" font-size="12.8" fill="#e9772b" font-weight="bold" text-anchor="middle">6Ag</text>
<text x="789.8" y="945.1" font-size="12.8" fill="#9c1b63" font-weight="bold" text-anchor="middle">13Cb</text>
<text x="835.7" y="942.3" font-size="12.8" fill="#e98bb9" font-weight="bold" text-anchor="middle">11Cb</text>
<text x="874.7" y="945.1" font-size="12.8" fill="#e9772b" font-weight="bold" text-anchor="middle">6Bb</text>
<text x="820.4" y="953.4" font-size="12.8" fill="#e98bb9" font-weight="bold" text-anchor="middle">11Cg</text>
<text x="880" y="961" font-size="12.8" fill="#e9772b" font-weight="bold" text-anchor="middle">6Ba</text>
<text x="843.6" y="970.7" font-size="12.8" fill="#e9772b" font-weight="bold" text-anchor="middle">6Aa</text>
<text x="779.3" y="977.6" font-size="12.8" fill="#e98bb9" font-weight="bold" text-anchor="middle">11Bg</text>
<text x="805.9" y="976.7" font-size="12.8" fill="#e98bb9" font-weight="bold" text-anchor="middle">11Bb</text>
<text x="846.1" y="980.7" font-size="12.8" fill="#e9772b" font-weight="bold" text-anchor="middle">6Cb</text>
<text x="893.6" y="983.4" font-size="12.8" fill="#e9772b" font-weight="bold" text-anchor="middle">6Ca</text>
<text x="763.9" y="988.7" font-size="12.8" fill="#e98bb9" font-weight="bold" text-anchor="middle">11Ba</text>
<text x="824.4" y="992.2" font-size="12.8" fill="#9c1b63" font-weight="bold" text-anchor="middle">13Bg</text>
<text x="866.9" y="992.2" font-size="12.8" fill="#e9772b" font-weight="bold" text-anchor="middle">6Cg</text>
<text x="799.6" y="1003.3" font-size="12.8" fill="#e98bb9" font-weight="bold" text-anchor="middle">11ABb</text>
<text x="766" y="1008.1" font-size="12.8" fill="#9c1b63" font-weight="bold" text-anchor="middle">13Cg</text>
<text x="846.1" y="1008.8" font-size="12.8" fill="#9c1b63" font-weight="bold" text-anchor="middle">13Ab</text>
<text x="770.8" y="1018.5" font-size="12.8" fill="#e98bb9" font-weight="bold" text-anchor="middle">11ABa</text>
<text x="831.9" y="1019" font-size="12.8" fill="#9c1b63" font-weight="bold" text-anchor="middle">13Ba</text>
<text x="786.7" y="1030.3" font-size="12.8" fill="#9c1b63" font-weight="bold" text-anchor="middle">13Ca</text>
<text x="817.2" y="1028.7" font-size="12.8" fill="#9c1b63" font-weight="bold" text-anchor="middle">13Ag</text>
<text x="816.6" y="1038.6" font-size="12.8" fill="#9c1b63" font-weight="bold" text-anchor="middle">13Aa</text>
<text x="952.3" y="868.2" font-size="12.8" fill="#111111" font-weight="bold" text-anchor="middle">5Ca</text>
<text x="983.2" y="867.9" font-size="12.8" fill="#111111" font-weight="bold" text-anchor="middle">5Cb</text>
<text x="935.5" y="887.8" font-size="12.8" fill="#111111" font-weight="bold" text-anchor="middle">5Cg</text>
<text x="988" y="888.5" font-size="12.8" fill="#111111" font-weight="bold" text-anchor="middle">5Bb</text>
<text x="949" y="908.9" font-size="12.8" fill="#111111" font-weight="bold" text-anchor="middle">5Ba</text>
<text x="975.9" y="929.4" font-size="12.8" fill="#111111" font-weight="bold" text-anchor="middle">5Bg</text>
<text x="934.5" y="984.8" font-size="12.8" fill="#3e46a2" font-weight="bold" text-anchor="middle">4Bb</text>
<text x="950.6" y="1004.6" font-size="12.8" fill="#3e46a2" font-weight="bold" text-anchor="middle">4Ab</text>
<text x="900.5" y="1012.7" font-size="12.8" fill="#3e46a2" font-weight="bold" text-anchor="middle">4Bg</text>
<text x="936.6" y="1019" font-size="12.8" fill="#3e46a2" font-weight="bold" text-anchor="middle">4Ag</text>
<text x="937.3" y="1031.1" font-size="12.8" fill="#3e46a2" font-weight="bold" text-anchor="middle">4Cb</text>
<text x="929.2" y="1040.6" font-size="12.8" fill="#3e46a2" font-weight="bold" text-anchor="middle">4Ba</text>
<text x="897.4" y="1038.7" font-size="12.8" fill="#3e46a2" font-weight="bold" text-anchor="middle">4Cg</text>
<text x="888.4" y="1053.3" font-size="12.8" fill="#3e46a2" font-weight="bold" text-anchor="middle">4Ca</text>
<text x="915.3" y="1071.6" font-size="12.8" fill="#3e46a2" font-weight="bold" text-anchor="middle">4Aa</text>
<text x="995" y="997.3" font-size="12.8" fill="#afdde8" font-weight="bold" text-anchor="middle">2Cg</text>
<text x="1025.1" y="998.7" font-size="12.8" fill="#afdde8" font-weight="bold" text-anchor="middle">2Cb</text>
<text x="1061.5" y="1002.9" font-size="12.8" fill="#afdde8" font-weight="bold" text-anchor="middle">2Bb</text>
<text x="992" y="1019.5" font-size="12.8" fill="#afdde8" font-weight="bold" text-anchor="middle">2Ca</text>
<text x="1031.7" y="1022.4" font-size="12.8" fill="#afdde8" font-weight="bold" text-anchor="middle">2Bg</text>
<text x="1087" y="1024.2" font-size="12.8" fill="#afdde8" font-weight="bold" text-anchor="middle">2Ba</text>
<text x="1007.1" y="1042.4" font-size="12.8" fill="#afdde8" font-weight="bold" text-anchor="middle">2Ag</text>
<text x="1065.5" y="1043.8" font-size="12.8" fill="#afdde8" font-weight="bold" text-anchor="middle">2Aa</text>
<text x="1036.5" y="1055.2" font-size="12.8" fill="#afdde8" font-weight="bold" text-anchor="middle">2Ab</text>
<text x="908" y="1128.1" font-size="12.8" fill="#16713e" font-weight="bold" text-anchor="middle">14Cg</text>
<text x="944.4" y="1132.6" font-size="12.8" fill="#16713e" font-weight="bold" text-anchor="middle">14Cb</text>
<text x="872.5" y="1135.4" font-size="12.8" fill="#16713e" font-weight="bold" text-anchor="middle">14Bb</text>
<text x="838.5" y="1157.3" font-size="12.8" fill="#16713e" font-weight="bold" text-anchor="middle">14Ba</text>
<text x="912.4" y="1152.8" font-size="12.8" fill="#16713e" font-weight="bold" text-anchor="middle">14Ca</text>
<text x="897.8" y="1172.2" font-size="12.8" fill="#16713e" font-weight="bold" text-anchor="middle">14ABCb</text>
<text x="859.7" y="1191.6" font-size="12.8" fill="#16713e" font-weight="bold" text-anchor="middle">14ABCa</text>
<line x1="679.35" y1="709.24" x2="682.85" y2="709.24" stroke="#3a3434" stroke-width="4.3"/>
<text x="676" y="715.44" font-size="19.21" fill="#3d3636" text-anchor="end" textLength="25.44" lengthAdjust="spacingAndGlyphs">0.6</text>
<line x1="679.35" y1="807.36" x2="682.85" y2="807.36" stroke="#3a3434" stroke-width="4.3"/>
<text x="676" y="813.56" font-size="19.21" fill="#3d3636" text-anchor="end" textLength="25.44" lengthAdjust="spacingAndGlyphs">0.4</text>
<line x1="679.35" y1="905.48" x2="682.85" y2="905.48" stroke="#3a3434" stroke-width="4.3"/>
<text x="676" y="911.68" font-size="19.21" fill="#3d3636" text-anchor="end" textLength="25.44" lengthAdjust="spacingAndGlyphs">0.2</text>
<line x1="679.35" y1="1003.6" x2="682.85" y2="1003.6" stroke="#3a3434" stroke-width="4.3"/>
<text x="676" y="1009.8" font-size="19.21" fill="#3d3636" text-anchor="end" textLength="25.44" lengthAdjust="spacingAndGlyphs">0.0</text>
<line x1="679.35" y1="1101.72" x2="682.85" y2="1101.72" stroke="#3a3434" stroke-width="4.3"/>
<text x="678.5" y="1107.92" font-size="19.21" fill="#3d3636" text-anchor="end" textLength="36.13" lengthAdjust="spacingAndGlyphs">−0.2</text>
<line x1="679.35" y1="1199.84" x2="682.85" y2="1199.84" stroke="#3a3434" stroke-width="4.3"/>
<text x="678.5" y="1206.04" font-size="19.21" fill="#3d3636" text-anchor="end" textLength="36.13" lengthAdjust="spacingAndGlyphs">−0.4</text>
<line x1="707.04" y1="1226.7" x2="707.04" y2="1230.7" stroke="#3a3434" stroke-width="4.3"/>
<text x="715.34" y="1247.7" font-size="19.21" fill="#3d3636" text-anchor="end" textLength="36.13" lengthAdjust="spacingAndGlyphs">−0.4</text>
<line x1="801.32" y1="1226.7" x2="801.32" y2="1230.7" stroke="#3a3434" stroke-width="4.3"/>
<text x="809.62" y="1247.7" font-size="19.21" fill="#3d3636" text-anchor="end" textLength="36.13" lengthAdjust="spacingAndGlyphs">−0.2</text>
<line x1="895.6" y1="1226.7" x2="895.6" y2="1230.7" stroke="#3a3434" stroke-width="4.3"/>
<text x="903.9" y="1247.7" font-size="19.21" fill="#3d3636" text-anchor="end" textLength="25.44" lengthAdjust="spacingAndGlyphs">0.0</text>
<line x1="989.88" y1="1226.7" x2="989.88" y2="1230.7" stroke="#3a3434" stroke-width="4.3"/>
<text x="998.18" y="1247.7" font-size="19.21" fill="#3d3636" text-anchor="end" textLength="25.44" lengthAdjust="spacingAndGlyphs">0.2</text>
<line x1="1084.16" y1="1226.7" x2="1084.16" y2="1230.7" stroke="#3a3434" stroke-width="4.3"/>
<text x="1092.46" y="1247.7" font-size="19.21" fill="#3d3636" text-anchor="end" textLength="25.44" lengthAdjust="spacingAndGlyphs">0.4</text>
<line x1="1178.44" y1="1226.7" x2="1178.44" y2="1230.7" stroke="#3a3434" stroke-width="4.3"/>
<text x="1186.74" y="1247.7" font-size="19.21" fill="#3d3636" text-anchor="end" textLength="25.44" lengthAdjust="spacingAndGlyphs">0.6</text>
<rect x="683.85" y="684.7" width="518" height="541" fill="none" stroke="#1c1a1a" stroke-width="4.2"/>
<text x="36.4" y="1310.7" font-size="36.5" fill="#111111" font-weight="bold" textLength="31.2" lengthAdjust="spacingAndGlyphs">E.</text>
<rect x="78.8" y="1330.2" width="323.1" height="272.8" fill="#fff" stroke="none" stroke-width="0"/>
<line x1="188.9" y1="1330.2" x2="188.9" y2="1603" stroke="#231f1f" stroke-width="2.2"/>
<line x1="291.5" y1="1330.2" x2="291.5" y2="1603" stroke="#231f1f" stroke-width="2.2"/>
<line x1="110" y1="1549.3" x2="110" y2="1590.6" stroke="#2d2626" stroke-width="4"/>
<rect x="91" y="1553.7" width="38" height="18.7" fill="#cfe6b2" stroke="#2d2626" stroke-width="2"/>
<line x1="91" y1="1568" x2="129" y2="1568" stroke="#2d2626" stroke-width="4.2"/>
<line x1="162.05" y1="1438.9" x2="162.05" y2="1457.6" stroke="#2d2626" stroke-width="4"/>
<rect x="142.8" y="1443.2" width="38.5" height="10.9" fill="#d3a8d3" stroke="#2d2626" stroke-width="2"/>
<line x1="142.8" y1="1448.7" x2="181.3" y2="1448.7" stroke="#2d2626" stroke-width="4.2"/>
<line x1="214.3" y1="1511.5" x2="214.3" y2="1556.8" stroke="#2d2626" stroke-width="4"/>
<rect x="195.3" y="1520" width="38" height="31.2" fill="#cfe6b2" stroke="#2d2626" stroke-width="2"/>
<line x1="195.3" y1="1535" x2="233.3" y2="1535" stroke="#2d2626" stroke-width="4.2"/>
<line x1="266.35" y1="1398" x2="266.35" y2="1424.5" stroke="#2d2626" stroke-width="4"/>
<rect x="247.2" y="1404.5" width="38.3" height="9.6" fill="#d3a8d3" stroke="#2d2626" stroke-width="2"/>
<line x1="247.2" y1="1408.1" x2="285.5" y2="1408.1" stroke="#2d2626" stroke-width="4.2"/>
<line x1="318.4" y1="1354" x2="318.4" y2="1390.2" stroke="#2d2626" stroke-width="4"/>
<rect x="299.2" y="1369.6" width="38.4" height="14.4" fill="#cfe6b2" stroke="#2d2626" stroke-width="2"/>
<line x1="299.2" y1="1380.5" x2="337.6" y2="1380.5" stroke="#2d2626" stroke-width="4.2"/>
<line x1="370.5" y1="1342.6" x2="370.5" y2="1370.2" stroke="#2d2626" stroke-width="4"/>
<rect x="351.3" y="1347.3" width="38.4" height="18.7" fill="#d3a8d3" stroke="#2d2626" stroke-width="2"/>
<line x1="351.3" y1="1363.7" x2="389.7" y2="1363.7" stroke="#2d2626" stroke-width="4.2"/>
<rect x="78.8" y="1330.2" width="323.1" height="272.8" fill="none" stroke="#1c1a1a" stroke-width="4.2"/>
<line x1="74.3" y1="1340" x2="77.8" y2="1340" stroke="#3a3434" stroke-width="3.5"/>
<text x="76.5" y="1346.3" font-size="18" fill="#3d3636" text-anchor="end">10</text>
<line x1="74.3" y1="1424.2" x2="77.8" y2="1424.2" stroke="#3a3434" stroke-width="3.5"/>
<text x="76.5" y="1430.5" font-size="18" fill="#3d3636" text-anchor="end">9</text>
<line x1="74.3" y1="1508.8" x2="77.8" y2="1508.8" stroke="#3a3434" stroke-width="3.5"/>
<text x="76.5" y="1515.1" font-size="18" fill="#3d3636" text-anchor="end">8</text>
<line x1="74.3" y1="1593" x2="77.8" y2="1593" stroke="#3a3434" stroke-width="3.5"/>
<text x="76.5" y="1599.3" font-size="18" fill="#3d3636" text-anchor="end">7</text>
<line x1="110.3" y1="1604" x2="110.3" y2="1607.5" stroke="#3a3434" stroke-width="3.5"/>
<text x="110.3" y="1623.5" font-size="18" fill="#3d3636" text-anchor="middle">2</text>
<line x1="162" y1="1604" x2="162" y2="1607.5" stroke="#3a3434" stroke-width="3.5"/>
<text x="162" y="1623.5" font-size="18" fill="#3d3636" text-anchor="middle">4</text>
<line x1="214.3" y1="1604" x2="214.3" y2="1607.5" stroke="#3a3434" stroke-width="3.5"/>
<text x="214.3" y="1623.5" font-size="18" fill="#3d3636" text-anchor="middle">5</text>
<line x1="266.4" y1="1604" x2="266.4" y2="1607.5" stroke="#3a3434" stroke-width="3.5"/>
<text x="266.4" y="1623.5" font-size="18" fill="#3d3636" text-anchor="middle">6</text>
<line x1="318.4" y1="1604" x2="318.4" y2="1607.5" stroke="#3a3434" stroke-width="3.5"/>
<text x="318.4" y="1623.5" font-size="18" fill="#3d3636" text-anchor="middle">11</text>
<line x1="370.5" y1="1604" x2="370.5" y2="1607.5" stroke="#3a3434" stroke-width="3.5"/>
<text x="370.5" y="1623.5" font-size="18" fill="#3d3636" text-anchor="middle">13</text>
<text x="123.8" y="1648" font-size="24" fill="#111" text-anchor="middle" textLength="39.8" lengthAdjust="spacingAndGlyphs">650</text>
<text x="231.1" y="1648" font-size="24" fill="#111" text-anchor="middle" textLength="39.8" lengthAdjust="spacingAndGlyphs">881</text>
<text x="333.8" y="1648" font-size="24" fill="#111" text-anchor="middle" textLength="39.8" lengthAdjust="spacingAndGlyphs">957</text>
<path d="M117.2 1319.6 L127.4 1319.6 M119.75 1315.18 L124.85 1324.02 M124.85 1315.18 L119.75 1324.02 " stroke="#111" stroke-width="2.5" fill="none"/>
<path d="M129.3 1319.6 L139.5 1319.6 M131.85 1315.18 L136.95 1324.02 M136.95 1315.18 L131.85 1324.02 " stroke="#111" stroke-width="2.5" fill="none"/>
<path d="M141.4 1319.6 L151.6 1319.6 M143.95 1315.18 L149.05 1324.02 M149.05 1315.18 L143.95 1324.02 " stroke="#111" stroke-width="2.5" fill="none"/>
<path d="M225.9 1319.6 L236.1 1319.6 M228.45 1315.18 L233.55 1324.02 M233.55 1315.18 L228.45 1324.02 " stroke="#111" stroke-width="2.5" fill="none"/>
<path d="M238 1319.6 L248.2 1319.6 M240.55 1315.18 L245.65 1324.02 M245.65 1315.18 L240.55 1324.02 " stroke="#111" stroke-width="2.5" fill="none"/>
<path d="M250.1 1319.6 L260.3 1319.6 M252.65 1315.18 L257.75 1324.02 M257.75 1315.18 L252.65 1324.02 " stroke="#111" stroke-width="2.5" fill="none"/>
<path d="M334.1 1319.6 L344.3 1319.6 M336.65 1315.18 L341.75 1324.02 M341.75 1315.18 L336.65 1324.02 " stroke="#111" stroke-width="2.5" fill="none"/>
<text x="27.7" y="1623.5" font-size="18" fill="#111" textLength="23.9" lengthAdjust="spacingAndGlyphs">PC</text>
<text x="12.1" y="1649" font-size="24.5" fill="#111" textLength="75.4" lengthAdjust="spacingAndGlyphs">BD (m)</text>
<text transform="translate(57.2 1452) rotate(-90)" font-size="25.5" fill="#111" text-anchor="middle" textLength="97" lengthAdjust="spacingAndGlyphs">Shannon</text>
<rect x="486.3" y="1331.2" width="319.5" height="273.8" fill="#fff" stroke="none" stroke-width="0"/>
<line x1="594.4" y1="1331.2" x2="594.4" y2="1605" stroke="#231f1f" stroke-width="2.2"/>
<line x1="697.7" y1="1331.2" x2="697.7" y2="1605" stroke="#231f1f" stroke-width="2.2"/>
<line x1="518" y1="1506.2" x2="518" y2="1592.2" stroke="#2d2626" stroke-width="4"/>
<rect x="499.4" y="1529.5" width="37.2" height="40.2" fill="#cfe6b2" stroke="#2d2626" stroke-width="2"/>
<line x1="499.4" y1="1539.2" x2="536.6" y2="1539.2" stroke="#2d2626" stroke-width="4.2"/>
<line x1="568.9" y1="1464" x2="568.9" y2="1494.8" stroke="#2d2626" stroke-width="4"/>
<rect x="550.3" y="1477.5" width="37.2" height="9.7" fill="#d3a8d3" stroke="#2d2626" stroke-width="2"/>
<line x1="550.3" y1="1480.2" x2="587.5" y2="1480.2" stroke="#2d2626" stroke-width="4.2"/>
<circle cx="568.9" cy="1447.3" r="2.6" fill="#2d2626"/>
<line x1="620.9" y1="1488.9" x2="620.9" y2="1572.1" stroke="#2d2626" stroke-width="4"/>
<rect x="602.3" y="1497.6" width="37.2" height="46.8" fill="#cfe6b2" stroke="#2d2626" stroke-width="2"/>
<line x1="602.3" y1="1517.7" x2="639.5" y2="1517.7" stroke="#2d2626" stroke-width="4.2"/>
<line x1="671.7" y1="1409.2" x2="671.7" y2="1501.7" stroke="#2d2626" stroke-width="4"/>
<rect x="652.9" y="1432.8" width="37.6" height="44" fill="#d3a8d3" stroke="#2d2626" stroke-width="2"/>
<line x1="652.9" y1="1447.3" x2="690.5" y2="1447.3" stroke="#2d2626" stroke-width="4.2"/>
<line x1="723.35" y1="1388.4" x2="723.35" y2="1583.5" stroke="#2d2626" stroke-width="4"/>
<rect x="704.9" y="1423" width="36.9" height="69.4" fill="#cfe6b2" stroke="#2d2626" stroke-width="2"/>
<line x1="704.9" y1="1442.1" x2="741.8" y2="1442.1" stroke="#2d2626" stroke-width="4.2"/>
<line x1="774.45" y1="1343.3" x2="774.45" y2="1439.3" stroke="#2d2626" stroke-width="4"/>
<rect x="755.9" y="1377" width="37.1" height="35.7" fill="#d3a8d3" stroke="#2d2626" stroke-width="2"/>
<line x1="755.9" y1="1394.3" x2="793" y2="1394.3" stroke="#2d2626" stroke-width="4.2"/>
<rect x="486.3" y="1331.2" width="319.5" height="273.8" fill="none" stroke="#1c1a1a" stroke-width="4.2"/>
<line x1="481.8" y1="1367.6" x2="485.3" y2="1367.6" stroke="#3a3434" stroke-width="3.5"/>
<text x="482.8" y="1373.9" font-size="18" fill="#3d3636" text-anchor="end">5500</text>
<line x1="481.8" y1="1431.7" x2="485.3" y2="1431.7" stroke="#3a3434" stroke-width="3.5"/>
<text x="482.8" y="1438" font-size="18" fill="#3d3636" text-anchor="end">5000</text>
<line x1="481.8" y1="1495.8" x2="485.3" y2="1495.8" stroke="#3a3434" stroke-width="3.5"/>
<text x="482.8" y="1502.1" font-size="18" fill="#3d3636" text-anchor="end">4500</text>
<line x1="481.8" y1="1560" x2="485.3" y2="1560" stroke="#3a3434" stroke-width="3.5"/>
<text x="482.8" y="1566.3" font-size="18" fill="#3d3636" text-anchor="end">4000</text>
<line x1="518.1" y1="1606" x2="518.1" y2="1609.5" stroke="#3a3434" stroke-width="3.5"/>
<text x="518.1" y="1624" font-size="18" fill="#3d3636" text-anchor="middle">2</text>
<line x1="568.8" y1="1606" x2="568.8" y2="1609.5" stroke="#3a3434" stroke-width="3.5"/>
<text x="568.8" y="1624" font-size="18" fill="#3d3636" text-anchor="middle">4</text>
<line x1="620.7" y1="1606" x2="620.7" y2="1609.5" stroke="#3a3434" stroke-width="3.5"/>
<text x="620.7" y="1624" font-size="18" fill="#3d3636" text-anchor="middle">5</text>
<line x1="671.7" y1="1606" x2="671.7" y2="1609.5" stroke="#3a3434" stroke-width="3.5"/>
<text x="671.7" y="1624" font-size="18" fill="#3d3636" text-anchor="middle">6</text>
<line x1="723.7" y1="1606" x2="723.7" y2="1609.5" stroke="#3a3434" stroke-width="3.5"/>
<text x="723.7" y="1624" font-size="18" fill="#3d3636" text-anchor="middle">11</text>
<line x1="774.6" y1="1606" x2="774.6" y2="1609.5" stroke="#3a3434" stroke-width="3.5"/>
<text x="774.6" y="1624" font-size="18" fill="#3d3636" text-anchor="middle">13</text>
<text x="538.2" y="1648.4" font-size="24" fill="#111" text-anchor="middle" textLength="39.8" lengthAdjust="spacingAndGlyphs">650</text>
<text x="645.7" y="1648.4" font-size="24" fill="#111" text-anchor="middle" textLength="39.8" lengthAdjust="spacingAndGlyphs">881</text>
<text x="748" y="1648.4" font-size="24" fill="#111" text-anchor="middle" textLength="39.8" lengthAdjust="spacingAndGlyphs">957</text>
<path d="M529.7 1319.6 L539.9 1319.6 M532.25 1315.18 L537.35 1324.02 M537.35 1315.18 L532.25 1324.02 " stroke="#111" stroke-width="2.5" fill="none"/>
<path d="M541.8 1319.6 L552 1319.6 M544.35 1315.18 L549.45 1324.02 M549.45 1315.18 L544.35 1324.02 " stroke="#111" stroke-width="2.5" fill="none"/>
<path d="M553.9 1319.6 L564.1 1319.6 M556.45 1315.18 L561.55 1324.02 M561.55 1315.18 L556.45 1324.02 " stroke="#111" stroke-width="2.5" fill="none"/>
<path d="M630.2 1319.6 L640.4 1319.6 M632.75 1315.18 L637.85 1324.02 M637.85 1315.18 L632.75 1324.02 " stroke="#111" stroke-width="2.5" fill="none"/>
<path d="M642.3 1319.6 L652.5 1319.6 M644.85 1315.18 L649.95 1324.02 M649.95 1315.18 L644.85 1324.02 " stroke="#111" stroke-width="2.5" fill="none"/>
<path d="M654.4 1319.6 L664.6 1319.6 M656.95 1315.18 L662.05 1324.02 M662.05 1315.18 L656.95 1324.02 " stroke="#111" stroke-width="2.5" fill="none"/>
<path d="M753.3 1319.6 L763.5 1319.6 M755.85 1315.18 L760.95 1324.02 M760.95 1315.18 L755.85 1324.02 " stroke="#111" stroke-width="2.5" fill="none"/>
<text transform="translate(437.7 1454.8) rotate(-90)" font-size="25.5" fill="#111" text-anchor="middle" textLength="70.4" lengthAdjust="spacingAndGlyphs">Chao1</text>
<rect x="878.8" y="1330.8" width="322.4" height="273.5" fill="#fff" stroke="none" stroke-width="0"/>
<line x1="987.5" y1="1330.8" x2="987.5" y2="1604.3" stroke="#231f1f" stroke-width="2.2"/>
<line x1="1091.4" y1="1330.8" x2="1091.4" y2="1604.3" stroke="#231f1f" stroke-width="2.2"/>
<line x1="910.35" y1="1537.2" x2="910.35" y2="1591.6" stroke="#2d2626" stroke-width="4"/>
<rect x="891.4" y="1542" width="37.9" height="30.4" fill="#cfe6b2" stroke="#2d2626" stroke-width="2"/>
<line x1="891.4" y1="1549.2" x2="929.3" y2="1549.2" stroke="#2d2626" stroke-width="4.2"/>
<line x1="961.75" y1="1511.9" x2="961.75" y2="1538.3" stroke="#2d2626" stroke-width="4"/>
<rect x="943.2" y="1513.7" width="37.1" height="19.9" fill="#d3a8d3" stroke="#2d2626" stroke-width="2"/>
<line x1="943.2" y1="1527.5" x2="980.3" y2="1527.5" stroke="#2d2626" stroke-width="4.2"/>
<circle cx="961.75" cy="1483.6" r="2.6" fill="#2d2626"/>
<line x1="1012.85" y1="1534.7" x2="1012.85" y2="1571.7" stroke="#2d2626" stroke-width="4"/>
<rect x="993.9" y="1535.4" width="37.9" height="18.1" fill="#cfe6b2" stroke="#2d2626" stroke-width="2"/>
<line x1="993.9" y1="1545.2" x2="1031.8" y2="1545.2" stroke="#2d2626" stroke-width="4.2"/>
<circle cx="1012.85" cy="1490.9" r="2.6" fill="#2d2626"/>
<line x1="1065.35" y1="1448.5" x2="1065.35" y2="1530" stroke="#2d2626" stroke-width="4"/>
<rect x="1046.4" y="1453.9" width="37.9" height="53.6" fill="#d3a8d3" stroke="#2d2626" stroke-width="2"/>
<line x1="1046.4" y1="1465.9" x2="1084.3" y2="1465.9" stroke="#2d2626" stroke-width="4.2"/>
<line x1="1117.15" y1="1345.3" x2="1117.15" y2="1420.6" stroke="#2d2626" stroke-width="4"/>
<rect x="1098.2" y="1366.3" width="37.9" height="48.9" fill="#cfe6b2" stroke="#2d2626" stroke-width="2"/>
<line x1="1098.2" y1="1402.5" x2="1136.1" y2="1402.5" stroke="#2d2626" stroke-width="4.2"/>
<line x1="1168.6" y1="1344.2" x2="1168.6" y2="1382.6" stroke="#2d2626" stroke-width="4"/>
<rect x="1149.7" y="1353.2" width="37.8" height="24" fill="#d3a8d3" stroke="#2d2626" stroke-width="2"/>
<line x1="1149.7" y1="1362.3" x2="1187.5" y2="1362.3" stroke="#2d2626" stroke-width="4.2"/>
<circle cx="1168.6" cy="1415.9" r="2.6" fill="#2d2626"/>
<rect x="878.8" y="1330.8" width="322.4" height="273.5" fill="none" stroke="#1c1a1a" stroke-width="4.2"/>
<line x1="874.3" y1="1371.7" x2="877.8" y2="1371.7" stroke="#3a3434" stroke-width="3.5"/>
<text x="877" y="1378" font-size="18" fill="#3d3636" text-anchor="end">440</text>
<line x1="874.3" y1="1450.5" x2="877.8" y2="1450.5" stroke="#3a3434" stroke-width="3.5"/>
<text x="877" y="1456.8" font-size="18" fill="#3d3636" text-anchor="end">400</text>
<line x1="874.3" y1="1529.3" x2="877.8" y2="1529.3" stroke="#3a3434" stroke-width="3.5"/>
<text x="877" y="1535.6" font-size="18" fill="#3d3636" text-anchor="end">360</text>
<line x1="910.3" y1="1605.3" x2="910.3" y2="1608.8" stroke="#3a3434" stroke-width="3.5"/>
<text x="910.3" y="1624" font-size="18" fill="#3d3636" text-anchor="middle">2</text>
<line x1="961.4" y1="1605.3" x2="961.4" y2="1608.8" stroke="#3a3434" stroke-width="3.5"/>
<text x="961.4" y="1624" font-size="18" fill="#3d3636" text-anchor="middle">4</text>
<line x1="1013.6" y1="1605.3" x2="1013.6" y2="1608.8" stroke="#3a3434" stroke-width="3.5"/>
<text x="1013.6" y="1624" font-size="18" fill="#3d3636" text-anchor="middle">5</text>
<line x1="1065.4" y1="1605.3" x2="1065.4" y2="1608.8" stroke="#3a3434" stroke-width="3.5"/>
<text x="1065.4" y="1624" font-size="18" fill="#3d3636" text-anchor="middle">6</text>
<line x1="1117.2" y1="1605.3" x2="1117.2" y2="1608.8" stroke="#3a3434" stroke-width="3.5"/>
<text x="1117.2" y="1624" font-size="18" fill="#3d3636" text-anchor="middle">11</text>
<line x1="1168.6" y1="1605.3" x2="1168.6" y2="1608.8" stroke="#3a3434" stroke-width="3.5"/>
<text x="1168.6" y="1624" font-size="18" fill="#3d3636" text-anchor="middle">13</text>
<text x="938.6" y="1647.7" font-size="24" fill="#111" text-anchor="middle" textLength="39.8" lengthAdjust="spacingAndGlyphs">650</text>
<text x="1045.4" y="1647.7" font-size="24" fill="#111" text-anchor="middle" textLength="39.8" lengthAdjust="spacingAndGlyphs">881</text>
<text x="1148.7" y="1647.7" font-size="24" fill="#111" text-anchor="middle" textLength="39.8" lengthAdjust="spacingAndGlyphs">957</text>
<path d="M917.8 1319.6 L928 1319.6 M920.35 1315.18 L925.45 1324.02 M925.45 1315.18 L920.35 1324.02 " stroke="#111" stroke-width="2.5" fill="none"/>
<path d="M929.9 1319.6 L940.1 1319.6 M932.45 1315.18 L937.55 1324.02 M937.55 1315.18 L932.45 1324.02 " stroke="#111" stroke-width="2.5" fill="none"/>
<path d="M942 1319.6 L952.2 1319.6 M944.55 1315.18 L949.65 1324.02 M949.65 1315.18 L944.55 1324.02 " stroke="#111" stroke-width="2.5" fill="none"/>
<path d="M1020.3 1319.6 L1030.5 1319.6 M1022.85 1315.18 L1027.95 1324.02 M1027.95 1315.18 L1022.85 1324.02 " stroke="#111" stroke-width="2.5" fill="none"/>
<path d="M1032.4 1319.6 L1042.6 1319.6 M1034.95 1315.18 L1040.05 1324.02 M1040.05 1315.18 L1034.95 1324.02 " stroke="#111" stroke-width="2.5" fill="none"/>
<path d="M1044.5 1319.6 L1054.7 1319.6 M1047.05 1315.18 L1052.15 1324.02 M1052.15 1315.18 L1047.05 1324.02 " stroke="#111" stroke-width="2.5" fill="none"/>
<text transform="translate(842.6 1448.5) rotate(-90)" font-size="25.5" fill="#111" text-anchor="middle" textLength="155.8" lengthAdjust="spacingAndGlyphs">PD whole tree</text>
<text x="36.4" y="1737.5" font-size="36" fill="#111111" font-weight="bold" textLength="29.1" lengthAdjust="spacingAndGlyphs">F.</text>
<text x="417" y="1736.8" font-size="36.5" fill="#111111" font-weight="bold" textLength="37" lengthAdjust="spacingAndGlyphs">G.</text>
<text x="809.1" y="1737.5" font-size="36" fill="#111111" font-weight="bold" textLength="34.9" lengthAdjust="spacingAndGlyphs">H.</text>
<line x1="79.7" y1="1763.7" x2="79.7" y2="2044" stroke="#111111" stroke-width="3.2"/>
<line x1="68.3" y1="2033" x2="404.7" y2="2033" stroke="#111111" stroke-width="3.4"/>
<line x1="73.7" y1="1776.4" x2="79.7" y2="1776.4" stroke="#231f1f" stroke-width="2.6"/>
<text x="73.2" y="1782.8" font-size="19.03" fill="#3d3636" text-anchor="end" textLength="40.71" lengthAdjust="spacingAndGlyphs">4000</text>
<line x1="73.7" y1="1840.1" x2="79.7" y2="1840.1" stroke="#231f1f" stroke-width="2.6"/>
<text x="73.2" y="1846.5" font-size="19.03" fill="#3d3636" text-anchor="end" textLength="40.71" lengthAdjust="spacingAndGlyphs">3000</text>
<line x1="73.7" y1="1904.6" x2="79.7" y2="1904.6" stroke="#231f1f" stroke-width="2.6"/>
<text x="73.2" y="1911" font-size="19.03" fill="#3d3636" text-anchor="end" textLength="40.71" lengthAdjust="spacingAndGlyphs">2000</text>
<line x1="73.7" y1="1968.3" x2="79.7" y2="1968.3" stroke="#231f1f" stroke-width="2.6"/>
<text x="73.2" y="1974.7" font-size="19.03" fill="#3d3636" text-anchor="end" textLength="40.71" lengthAdjust="spacingAndGlyphs">1000</text>
<line x1="73.7" y1="2033" x2="79.7" y2="2033" stroke="#231f1f" stroke-width="2.6"/>
<text x="46.3" y="2039.4" font-size="19.03" fill="#3d3636" text-anchor="middle" textLength="10.18" lengthAdjust="spacingAndGlyphs">0</text>
<line x1="157.6" y1="2033" x2="157.6" y2="2038" stroke="#231f1f" stroke-width="2.8"/>
<text x="155.1" y="2061.5" font-size="19.03" fill="#3d3636" text-anchor="middle" textLength="40.71" lengthAdjust="spacingAndGlyphs">5000</text>
<line x1="235.8" y1="2033" x2="235.8" y2="2038" stroke="#231f1f" stroke-width="2.8"/>
<text x="235.8" y="2061.5" font-size="19.03" fill="#3d3636" text-anchor="middle" textLength="50.89" lengthAdjust="spacingAndGlyphs">10000</text>
<line x1="313" y1="2033" x2="313" y2="2038" stroke="#231f1f" stroke-width="2.8"/>
<text x="314" y="2061.5" font-size="19.03" fill="#3d3636" text-anchor="middle" textLength="50.89" lengthAdjust="spacingAndGlyphs">15000</text>
<line x1="390.2" y1="2033" x2="390.2" y2="2038" stroke="#231f1f" stroke-width="2.8"/>
<text x="390.2" y="2061.5" font-size="19.03" fill="#3d3636" text-anchor="middle" textLength="50.89" lengthAdjust="spacingAndGlyphs">20000</text>
<line x1="110" y1="1989" x2="110" y2="1997" stroke="#97d06f" stroke-width="3" stroke-opacity="0.55" stroke-dasharray="3 2.2"/>
<line x1="140.1" y1="1965.66" x2="140.1" y2="1974.54" stroke="#97d06f" stroke-width="3" stroke-opacity="0.55" stroke-dasharray="3 2.2"/>
<line x1="171.5" y1="1943.81" x2="171.5" y2="1953.59" stroke="#97d06f" stroke-width="3" stroke-opacity="0.55" stroke-dasharray="3 2.2"/>
<line x1="200.1" y1="1929.07" x2="200.1" y2="1939.73" stroke="#97d06f" stroke-width="3" stroke-opacity="0.55" stroke-dasharray="3 2.2"/>
<line x1="230.1" y1="1915.12" x2="230.1" y2="1926.68" stroke="#97d06f" stroke-width="3" stroke-opacity="0.55" stroke-dasharray="3 2.2"/>
<line x1="260.2" y1="1903.28" x2="260.2" y2="1915.72" stroke="#97d06f" stroke-width="3" stroke-opacity="0.55" stroke-dasharray="3 2.2"/>
<line x1="290.2" y1="1891.93" x2="290.2" y2="1905.27" stroke="#97d06f" stroke-width="3" stroke-opacity="0.55" stroke-dasharray="3 2.2"/>
<line x1="320.2" y1="1881.49" x2="320.2" y2="1895.71" stroke="#97d06f" stroke-width="3" stroke-opacity="0.55" stroke-dasharray="3 2.2"/>
<line x1="350.2" y1="1873.34" x2="350.2" y2="1888.46" stroke="#97d06f" stroke-width="3" stroke-opacity="0.55" stroke-dasharray="3 2.2"/>
<line x1="380.3" y1="1864.9" x2="380.3" y2="1880.9" stroke="#97d06f" stroke-width="3" stroke-opacity="0.55" stroke-dasharray="3 2.2"/>
<line x1="110" y1="1982.7" x2="110" y2="1990.7" stroke="#9a50b0" stroke-width="3" stroke-opacity="0.55" stroke-dasharray="3 2.2"/>
<line x1="140.1" y1="1952.37" x2="140.1" y2="1961.03" stroke="#9a50b0" stroke-width="3" stroke-opacity="0.55" stroke-dasharray="3 2.2"/>
<line x1="171.5" y1="1926.83" x2="171.5" y2="1936.17" stroke="#9a50b0" stroke-width="3" stroke-opacity="0.55" stroke-dasharray="3 2.2"/>
<line x1="200.1" y1="1912.2" x2="200.1" y2="1922.2" stroke="#9a50b0" stroke-width="3" stroke-opacity="0.55" stroke-dasharray="3 2.2"/>
<line x1="230.1" y1="1896.77" x2="230.1" y2="1907.43" stroke="#9a50b0" stroke-width="3" stroke-opacity="0.55" stroke-dasharray="3 2.2"/>
<line x1="260.2" y1="1882.93" x2="260.2" y2="1894.27" stroke="#9a50b0" stroke-width="3" stroke-opacity="0.55" stroke-dasharray="3 2.2"/>
<line x1="290.2" y1="1870.3" x2="290.2" y2="1882.3" stroke="#9a50b0" stroke-width="3" stroke-opacity="0.55" stroke-dasharray="3 2.2"/>
<line x1="320.2" y1="1859.37" x2="320.2" y2="1872.03" stroke="#9a50b0" stroke-width="3" stroke-opacity="0.55" stroke-dasharray="3 2.2"/>
<line x1="350.2" y1="1850.53" x2="350.2" y2="1863.87" stroke="#9a50b0" stroke-width="3" stroke-opacity="0.55" stroke-dasharray="3 2.2"/>
<line x1="380.3" y1="1842.4" x2="380.3" y2="1856.4" stroke="#9a50b0" stroke-width="3" stroke-opacity="0.55" stroke-dasharray="3 2.2"/>
<path d="M80 2028.7 C85 2022.75 99.98 2002.77 110 1993 C120.02 1983.23 129.85 1977.48 140.1 1970.1 C150.35 1962.72 166.27 1952.27 171.5 1948.7 C176.27 1946.32 190.33 1939.03 200.1 1934.4 C209.87 1929.77 220.08 1925.05 230.1 1920.9 C240.12 1916.75 250.18 1913.22 260.2 1909.5 C270.22 1905.78 280.2 1902.08 290.2 1898.6 C300.2 1895.12 310.2 1891.55 320.2 1888.6 C330.2 1885.65 340.18 1883.52 350.2 1880.9 C360.22 1878.28 375.28 1874.23 380.3 1872.9" fill="none" stroke="#97d06f" stroke-width="6" stroke-linecap="round" stroke-linejoin="round"/>
<path d="M80 2025.9 C85 2019.37 99.98 1998.23 110 1986.7 C120.02 1975.17 129.85 1965.9 140.1 1956.7 C150.35 1947.5 166.27 1935.7 171.5 1931.5 C176.27 1929.12 190.33 1922.1 200.1 1917.2 C209.87 1912.3 220.08 1906.87 230.1 1902.1 C240.12 1897.33 250.18 1892.9 260.2 1888.6 C270.22 1884.3 280.2 1880.12 290.2 1876.3 C300.2 1872.48 310.2 1868.88 320.2 1865.7 C330.2 1862.52 340.18 1859.92 350.2 1857.2 C360.22 1854.48 375.28 1850.7 380.3 1849.4" fill="none" stroke="#7a2a92" stroke-width="6.5" stroke-linecap="round" stroke-linejoin="round"/>
<line x1="83" y1="2083.7" x2="83" y2="2364.5" stroke="#111111" stroke-width="3.2"/>
<line x1="71.5" y1="2353.5" x2="406.5" y2="2353.5" stroke="#111111" stroke-width="3.4"/>
<line x1="77" y1="2096.4" x2="83" y2="2096.4" stroke="#231f1f" stroke-width="2.6"/>
<text x="73.2" y="2102.8" font-size="19.03" fill="#3d3636" text-anchor="end" textLength="40.71" lengthAdjust="spacingAndGlyphs">4000</text>
<line x1="77" y1="2161.2" x2="83" y2="2161.2" stroke="#231f1f" stroke-width="2.6"/>
<text x="73.2" y="2167.6" font-size="19.03" fill="#3d3636" text-anchor="end" textLength="40.71" lengthAdjust="spacingAndGlyphs">3000</text>
<line x1="77" y1="2224.9" x2="83" y2="2224.9" stroke="#231f1f" stroke-width="2.6"/>
<text x="73.2" y="2231.3" font-size="19.03" fill="#3d3636" text-anchor="end" textLength="40.71" lengthAdjust="spacingAndGlyphs">2000</text>
<line x1="77" y1="2289.3" x2="83" y2="2289.3" stroke="#231f1f" stroke-width="2.6"/>
<text x="73.2" y="2295.7" font-size="19.03" fill="#3d3636" text-anchor="end" textLength="40.71" lengthAdjust="spacingAndGlyphs">1000</text>
<line x1="77" y1="2353.5" x2="83" y2="2353.5" stroke="#231f1f" stroke-width="2.6"/>
<text x="46.3" y="2359.9" font-size="19.03" fill="#3d3636" text-anchor="middle" textLength="10.18" lengthAdjust="spacingAndGlyphs">0</text>
<line x1="158.3" y1="2353.5" x2="158.3" y2="2358.5" stroke="#231f1f" stroke-width="2.8"/>
<text x="155.8" y="2377" font-size="19.03" fill="#3d3636" text-anchor="middle" textLength="40.71" lengthAdjust="spacingAndGlyphs">5000</text>
<line x1="235.8" y1="2353.5" x2="235.8" y2="2358.5" stroke="#231f1f" stroke-width="2.8"/>
<text x="235.8" y="2377" font-size="19.03" fill="#3d3636" text-anchor="middle" textLength="50.89" lengthAdjust="spacingAndGlyphs">10000</text>
<line x1="313.7" y1="2353.5" x2="313.7" y2="2358.5" stroke="#231f1f" stroke-width="2.8"/>
<text x="314.7" y="2377" font-size="19.03" fill="#3d3636" text-anchor="middle" textLength="50.89" lengthAdjust="spacingAndGlyphs">15000</text>
<line x1="390.2" y1="2353.5" x2="390.2" y2="2358.5" stroke="#231f1f" stroke-width="2.8"/>
<text x="390.2" y="2377" font-size="19.03" fill="#3d3636" text-anchor="middle" textLength="50.89" lengthAdjust="spacingAndGlyphs">20000</text>
<line x1="112.9" y1="2306.1" x2="112.9" y2="2314.1" stroke="#97d06f" stroke-width="3" stroke-opacity="0.55" stroke-dasharray="3 2.2"/>
<line x1="142.9" y1="2279.96" x2="142.9" y2="2288.84" stroke="#97d06f" stroke-width="3" stroke-opacity="0.55" stroke-dasharray="3 2.2"/>
<line x1="174.4" y1="2259.51" x2="174.4" y2="2269.29" stroke="#97d06f" stroke-width="3" stroke-opacity="0.55" stroke-dasharray="3 2.2"/>
<line x1="203" y1="2246.17" x2="203" y2="2256.83" stroke="#97d06f" stroke-width="3" stroke-opacity="0.55" stroke-dasharray="3 2.2"/>
<line x1="233" y1="2232.32" x2="233" y2="2243.88" stroke="#97d06f" stroke-width="3" stroke-opacity="0.55" stroke-dasharray="3 2.2"/>
<line x1="263" y1="2219.58" x2="263" y2="2232.02" stroke="#97d06f" stroke-width="3" stroke-opacity="0.55" stroke-dasharray="3 2.2"/>
<line x1="293" y1="2207.63" x2="293" y2="2220.97" stroke="#97d06f" stroke-width="3" stroke-opacity="0.55" stroke-dasharray="3 2.2"/>
<line x1="323.1" y1="2197.19" x2="323.1" y2="2211.41" stroke="#97d06f" stroke-width="3" stroke-opacity="0.55" stroke-dasharray="3 2.2"/>
<line x1="353.1" y1="2188.24" x2="353.1" y2="2203.36" stroke="#97d06f" stroke-width="3" stroke-opacity="0.55" stroke-dasharray="3 2.2"/>
<line x1="383.1" y1="2180.6" x2="383.1" y2="2196.6" stroke="#97d06f" stroke-width="3" stroke-opacity="0.55" stroke-dasharray="3 2.2"/>
<line x1="112.9" y1="2300.4" x2="112.9" y2="2308.4" stroke="#9a50b0" stroke-width="3" stroke-opacity="0.55" stroke-dasharray="3 2.2"/>
<line x1="142.9" y1="2267.17" x2="142.9" y2="2275.83" stroke="#9a50b0" stroke-width="3" stroke-opacity="0.55" stroke-dasharray="3 2.2"/>
<line x1="174.4" y1="2241.13" x2="174.4" y2="2250.47" stroke="#9a50b0" stroke-width="3" stroke-opacity="0.55" stroke-dasharray="3 2.2"/>
<line x1="203" y1="2226.5" x2="203" y2="2236.5" stroke="#9a50b0" stroke-width="3" stroke-opacity="0.55" stroke-dasharray="3 2.2"/>
<line x1="233" y1="2210.47" x2="233" y2="2221.13" stroke="#9a50b0" stroke-width="3" stroke-opacity="0.55" stroke-dasharray="3 2.2"/>
<line x1="263" y1="2196.63" x2="263" y2="2207.97" stroke="#9a50b0" stroke-width="3" stroke-opacity="0.55" stroke-dasharray="3 2.2"/>
<line x1="293" y1="2184" x2="293" y2="2196" stroke="#9a50b0" stroke-width="3" stroke-opacity="0.55" stroke-dasharray="3 2.2"/>
<line x1="323.1" y1="2172.27" x2="323.1" y2="2184.93" stroke="#9a50b0" stroke-width="3" stroke-opacity="0.55" stroke-dasharray="3 2.2"/>
<line x1="353.1" y1="2162.73" x2="353.1" y2="2176.07" stroke="#9a50b0" stroke-width="3" stroke-opacity="0.55" stroke-dasharray="3 2.2"/>
<line x1="383.1" y1="2153.9" x2="383.1" y2="2167.9" stroke="#9a50b0" stroke-width="3" stroke-opacity="0.55" stroke-dasharray="3 2.2"/>
<path d="M82.9 2347.3 C87.9 2341.1 102.9 2320.58 112.9 2310.1 C122.9 2299.62 132.65 2292.02 142.9 2284.4 C153.15 2276.78 169.15 2267.73 174.4 2264.4 C179.17 2262.25 193.23 2255.88 203 2251.5 C212.77 2247.12 223 2242.38 233 2238.1 C243 2233.82 253 2229.77 263 2225.8 C273 2221.83 282.98 2217.88 293 2214.3 C303.02 2210.72 313.08 2207.38 323.1 2204.3 C333.12 2201.22 343.1 2198.42 353.1 2195.8 C363.1 2193.18 378.1 2189.8 383.1 2188.6" fill="none" stroke="#97d06f" stroke-width="6" stroke-linecap="round" stroke-linejoin="round"/>
<path d="M82.9 2345.9 C87.9 2338.98 102.9 2316.8 112.9 2304.4 C122.9 2292 132.65 2281.27 142.9 2271.5 C153.15 2261.73 169.15 2250.08 174.4 2245.8 C179.17 2243.42 193.23 2236.5 203 2231.5 C212.77 2226.5 223 2220.67 233 2215.8 C243 2210.93 253 2206.6 263 2202.3 C273 2198 282.98 2193.95 293 2190 C303.02 2186.05 313.08 2182.03 323.1 2178.6 C333.12 2175.17 343.1 2172.35 353.1 2169.4 C363.1 2166.45 378.1 2162.32 383.1 2160.9" fill="none" stroke="#7a2a92" stroke-width="6.5" stroke-linecap="round" stroke-linejoin="round"/>
<line x1="79.3" y1="2404.8" x2="79.3" y2="2684" stroke="#111111" stroke-width="3.2"/>
<line x1="68.3" y1="2673" x2="402.2" y2="2673" stroke="#111111" stroke-width="3.4"/>
<line x1="73.3" y1="2417.2" x2="79.3" y2="2417.2" stroke="#231f1f" stroke-width="2.6"/>
<text x="73.2" y="2423.6" font-size="19.03" fill="#3d3636" text-anchor="end" textLength="40.71" lengthAdjust="spacingAndGlyphs">4000</text>
<line x1="73.3" y1="2481.2" x2="79.3" y2="2481.2" stroke="#231f1f" stroke-width="2.6"/>
<text x="73.2" y="2487.6" font-size="19.03" fill="#3d3636" text-anchor="end" textLength="40.71" lengthAdjust="spacingAndGlyphs">3000</text>
<line x1="73.3" y1="2545.6" x2="79.3" y2="2545.6" stroke="#231f1f" stroke-width="2.6"/>
<text x="73.2" y="2552" font-size="19.03" fill="#3d3636" text-anchor="end" textLength="40.71" lengthAdjust="spacingAndGlyphs">2000</text>
<line x1="73.3" y1="2609.3" x2="79.3" y2="2609.3" stroke="#231f1f" stroke-width="2.6"/>
<text x="73.2" y="2615.7" font-size="19.03" fill="#3d3636" text-anchor="end" textLength="40.71" lengthAdjust="spacingAndGlyphs">1000</text>
<line x1="73.3" y1="2673" x2="79.3" y2="2673" stroke="#231f1f" stroke-width="2.6"/>
<text x="46.3" y="2679.4" font-size="19.03" fill="#3d3636" text-anchor="middle" textLength="10.18" lengthAdjust="spacingAndGlyphs">0</text>
<line x1="157.6" y1="2673" x2="157.6" y2="2678" stroke="#231f1f" stroke-width="2.8"/>
<text x="155.1" y="2699.2" font-size="19.03" fill="#3d3636" text-anchor="middle" textLength="40.71" lengthAdjust="spacingAndGlyphs">5000</text>
<line x1="234.8" y1="2673" x2="234.8" y2="2678" stroke="#231f1f" stroke-width="2.8"/>
<text x="234.8" y="2699.2" font-size="19.03" fill="#3d3636" text-anchor="middle" textLength="50.89" lengthAdjust="spacingAndGlyphs">10000</text>
<line x1="313" y1="2673" x2="313" y2="2678" stroke="#231f1f" stroke-width="2.8"/>
<text x="314" y="2699.2" font-size="19.03" fill="#3d3636" text-anchor="middle" textLength="50.89" lengthAdjust="spacingAndGlyphs">15000</text>
<line x1="389.4" y1="2673" x2="389.4" y2="2678" stroke="#231f1f" stroke-width="2.8"/>
<text x="389.4" y="2699.2" font-size="19.03" fill="#3d3636" text-anchor="middle" textLength="50.89" lengthAdjust="spacingAndGlyphs">20000</text>
<line x1="110" y1="2613.9" x2="110" y2="2621.9" stroke="#97d06f" stroke-width="3" stroke-opacity="0.55" stroke-dasharray="3 2.2"/>
<line x1="140.1" y1="2579.96" x2="140.1" y2="2588.84" stroke="#97d06f" stroke-width="3" stroke-opacity="0.55" stroke-dasharray="3 2.2"/>
<line x1="170.1" y1="2553.81" x2="170.1" y2="2563.59" stroke="#97d06f" stroke-width="3" stroke-opacity="0.55" stroke-dasharray="3 2.2"/>
<line x1="198.7" y1="2534.77" x2="198.7" y2="2545.43" stroke="#97d06f" stroke-width="3" stroke-opacity="0.55" stroke-dasharray="3 2.2"/>
<line x1="228.7" y1="2518.62" x2="228.7" y2="2530.18" stroke="#97d06f" stroke-width="3" stroke-opacity="0.55" stroke-dasharray="3 2.2"/>
<line x1="258.7" y1="2502.38" x2="258.7" y2="2514.82" stroke="#97d06f" stroke-width="3" stroke-opacity="0.55" stroke-dasharray="3 2.2"/>
<line x1="288.8" y1="2489.13" x2="288.8" y2="2502.47" stroke="#97d06f" stroke-width="3" stroke-opacity="0.55" stroke-dasharray="3 2.2"/>
<line x1="318.8" y1="2477.19" x2="318.8" y2="2491.41" stroke="#97d06f" stroke-width="3" stroke-opacity="0.55" stroke-dasharray="3 2.2"/>
<line x1="348.8" y1="2466.74" x2="348.8" y2="2481.86" stroke="#97d06f" stroke-width="3" stroke-opacity="0.55" stroke-dasharray="3 2.2"/>
<line x1="377.4" y1="2458.3" x2="377.4" y2="2474.3" stroke="#97d06f" stroke-width="3" stroke-opacity="0.55" stroke-dasharray="3 2.2"/>
<line x1="110" y1="2611.9" x2="110" y2="2619.9" stroke="#9a50b0" stroke-width="3" stroke-opacity="0.55" stroke-dasharray="3 2.2"/>
<line x1="140.1" y1="2577.17" x2="140.1" y2="2585.83" stroke="#9a50b0" stroke-width="3" stroke-opacity="0.55" stroke-dasharray="3 2.2"/>
<line x1="170.1" y1="2551.13" x2="170.1" y2="2560.47" stroke="#9a50b0" stroke-width="3" stroke-opacity="0.55" stroke-dasharray="3 2.2"/>
<line x1="198.7" y1="2532.2" x2="198.7" y2="2542.2" stroke="#9a50b0" stroke-width="3" stroke-opacity="0.55" stroke-dasharray="3 2.2"/>
<line x1="228.7" y1="2515.57" x2="228.7" y2="2526.23" stroke="#9a50b0" stroke-width="3" stroke-opacity="0.55" stroke-dasharray="3 2.2"/>
<line x1="258.7" y1="2499.53" x2="258.7" y2="2510.87" stroke="#9a50b0" stroke-width="3" stroke-opacity="0.55" stroke-dasharray="3 2.2"/>
<line x1="288.8" y1="2485.5" x2="288.8" y2="2497.5" stroke="#9a50b0" stroke-width="3" stroke-opacity="0.55" stroke-dasharray="3 2.2"/>
<line x1="318.8" y1="2472.87" x2="318.8" y2="2485.53" stroke="#9a50b0" stroke-width="3" stroke-opacity="0.55" stroke-dasharray="3 2.2"/>
<line x1="348.8" y1="2461.93" x2="348.8" y2="2475.27" stroke="#9a50b0" stroke-width="3" stroke-opacity="0.55" stroke-dasharray="3 2.2"/>
<line x1="377.4" y1="2452.4" x2="377.4" y2="2466.4" stroke="#9a50b0" stroke-width="3" stroke-opacity="0.55" stroke-dasharray="3 2.2"/>
<path d="M80 2667.3 C85 2659.07 99.98 2631.72 110 2617.9 C120.02 2604.08 130.08 2594.27 140.1 2584.4 C150.12 2574.53 165.1 2562.98 170.1 2558.7 C174.87 2555.6 188.93 2545.82 198.7 2540.1 C208.47 2534.38 218.7 2529.65 228.7 2524.4 C238.7 2519.15 248.68 2513.37 258.7 2508.6 C268.72 2503.83 278.78 2499.85 288.8 2495.8 C298.82 2491.75 308.8 2487.88 318.8 2484.3 C328.8 2480.72 339.03 2477.3 348.8 2474.3 C358.57 2471.3 372.63 2467.63 377.4 2466.3" fill="none" stroke="#97d06f" stroke-width="6" stroke-linecap="round" stroke-linejoin="round"/>
<path d="M80 2665.9 C85 2657.57 99.98 2629.97 110 2615.9 C120.02 2601.83 130.08 2591.52 140.1 2581.5 C150.12 2571.48 165.1 2560.08 170.1 2555.8 C174.87 2552.7 188.93 2543.02 198.7 2537.2 C208.47 2531.38 218.7 2526.23 228.7 2520.9 C238.7 2515.57 248.68 2510.1 258.7 2505.2 C268.72 2500.3 278.78 2495.83 288.8 2491.5 C298.82 2487.17 308.8 2483.02 318.8 2479.2 C328.8 2475.38 339.03 2471.9 348.8 2468.6 C358.57 2465.3 372.63 2460.93 377.4 2459.4" fill="none" stroke="#7a2a92" stroke-width="6.5" stroke-linecap="round" stroke-linejoin="round"/>
<text transform="translate(18.9 2170.7) rotate(-90)" font-size="26" fill="#111" text-anchor="middle" textLength="175.4" lengthAdjust="spacingAndGlyphs">Number of OTUs</text>
<text x="186.3" y="2739" font-size="24.5" fill="#111" textLength="166" lengthAdjust="spacingAndGlyphs">Number of reads</text>
<line x1="452.6" y1="1763.5" x2="452.6" y2="2043.8" stroke="#111111" stroke-width="3.2"/>
<line x1="441.9" y1="2032.8" x2="776.6" y2="2032.8" stroke="#111111" stroke-width="3.4"/>
<line x1="446.6" y1="1822.8" x2="452.6" y2="1822.8" stroke="#231f1f" stroke-width="2.6"/>
<text x="446.2" y="1829.2" font-size="19.03" fill="#3d3636" text-anchor="end" textLength="40.71" lengthAdjust="spacingAndGlyphs">9000</text>
<line x1="446.6" y1="1892.5" x2="452.6" y2="1892.5" stroke="#231f1f" stroke-width="2.6"/>
<text x="446.2" y="1898.9" font-size="19.03" fill="#3d3636" text-anchor="end" textLength="40.71" lengthAdjust="spacingAndGlyphs">6000</text>
<line x1="446.6" y1="1962.5" x2="452.6" y2="1962.5" stroke="#231f1f" stroke-width="2.6"/>
<text x="446.2" y="1968.9" font-size="19.03" fill="#3d3636" text-anchor="end" textLength="40.71" lengthAdjust="spacingAndGlyphs">3000</text>
<line x1="446.6" y1="2032.8" x2="452.6" y2="2032.8" stroke="#231f1f" stroke-width="2.6"/>
<text x="424.9" y="2039.2" font-size="19.03" fill="#3d3636" text-anchor="middle" textLength="10.18" lengthAdjust="spacingAndGlyphs">0</text>
<line x1="517.5" y1="2032.8" x2="517.5" y2="2037.8" stroke="#231f1f" stroke-width="2.8"/>
<text x="525.5" y="2061" font-size="19.03" fill="#3d3636" text-anchor="middle" textLength="51.4" lengthAdjust="spacingAndGlyphs">1e+05</text>
<line x1="582.9" y1="2032.8" x2="582.9" y2="2037.8" stroke="#231f1f" stroke-width="2.8"/>
<text x="590.9" y="2061" font-size="19.03" fill="#3d3636" text-anchor="middle" textLength="51.4" lengthAdjust="spacingAndGlyphs">2e+05</text>
<line x1="648.6" y1="2032.8" x2="648.6" y2="2037.8" stroke="#231f1f" stroke-width="2.8"/>
<text x="656.6" y="2061" font-size="19.03" fill="#3d3636" text-anchor="middle" textLength="51.4" lengthAdjust="spacingAndGlyphs">3e+05</text>
<line x1="713.4" y1="2032.8" x2="713.4" y2="2037.8" stroke="#231f1f" stroke-width="2.8"/>
<text x="721.4" y="2061" font-size="19.03" fill="#3d3636" text-anchor="middle" textLength="51.4" lengthAdjust="spacingAndGlyphs">4e+05</text>
<path d="M452.1 2031.7 C453.07 2027.17 455.75 2013.8 457.9 2004.5 C460.05 1995.2 462.38 1984.48 465 1975.9 C467.62 1967.32 470.27 1960.15 473.6 1953 C476.93 1945.85 480.23 1939.67 485 1933 C489.77 1926.33 495.52 1919.43 502.2 1913 C508.88 1906.57 516.52 1900.37 525.1 1894.4 C533.68 1888.43 543.22 1882.92 553.7 1877.2 C564.18 1871.48 576.57 1865.33 588 1860.1 C599.43 1854.87 610.87 1850.33 622.3 1845.8 C633.73 1841.27 645.17 1836.95 656.6 1832.9 C668.03 1828.85 679.47 1824.83 690.9 1821.5 C702.33 1818.17 713.75 1815.38 725.2 1812.9 C736.65 1810.42 753.87 1807.65 759.6 1806.6" fill="none" stroke="#97d06f" stroke-width="5.5" stroke-linecap="round" stroke-linejoin="round"/>
<path d="M452.1 2031.7 C452.82 2027.17 454.72 2013.8 456.4 2004.5 C458.08 1995.2 460.05 1984.95 462.2 1975.9 C464.35 1966.85 466.45 1958.3 469.3 1950.2 C472.15 1942.1 475.25 1934.93 479.3 1927.3 C483.35 1919.67 487.88 1911.78 493.6 1904.4 C499.32 1897.02 505.97 1889.92 513.6 1883 C521.23 1876.08 529.87 1869.35 539.4 1862.9 C548.93 1856.45 559.85 1850.25 570.8 1844.3 C581.75 1838.35 593.65 1832.43 605.1 1827.2 C616.55 1821.97 628.05 1817.18 639.5 1812.9 C650.95 1808.62 662.37 1805.08 673.8 1801.5 C685.23 1797.92 696.67 1794.27 708.1 1791.4 C719.53 1788.53 733.82 1785.97 742.4 1784.3 C750.98 1782.63 756.73 1781.88 759.6 1781.4" fill="none" stroke="#7a2a92" stroke-width="5.8" stroke-linecap="round" stroke-linejoin="round"/>
<line x1="454" y1="2084.4" x2="454" y2="2364.7" stroke="#111111" stroke-width="3.2"/>
<line x1="442.6" y1="2353.7" x2="777.7" y2="2353.7" stroke="#111111" stroke-width="3.4"/>
<line x1="448" y1="2143.7" x2="454" y2="2143.7" stroke="#231f1f" stroke-width="2.6"/>
<text x="446.2" y="2150.1" font-size="19.03" fill="#3d3636" text-anchor="end" textLength="40.71" lengthAdjust="spacingAndGlyphs">9000</text>
<line x1="448" y1="2214.1" x2="454" y2="2214.1" stroke="#231f1f" stroke-width="2.6"/>
<text x="446.2" y="2220.5" font-size="19.03" fill="#3d3636" text-anchor="end" textLength="40.71" lengthAdjust="spacingAndGlyphs">6000</text>
<line x1="448" y1="2284.1" x2="454" y2="2284.1" stroke="#231f1f" stroke-width="2.6"/>
<text x="446.2" y="2290.5" font-size="19.03" fill="#3d3636" text-anchor="end" textLength="40.71" lengthAdjust="spacingAndGlyphs">3000</text>
<line x1="448" y1="2353.7" x2="454" y2="2353.7" stroke="#231f1f" stroke-width="2.6"/>
<text x="424.9" y="2360.1" font-size="19.03" fill="#3d3636" text-anchor="middle" textLength="10.18" lengthAdjust="spacingAndGlyphs">0</text>
<line x1="518.3" y1="2353.7" x2="518.3" y2="2358.7" stroke="#231f1f" stroke-width="2.8"/>
<text x="526.3" y="2377.3" font-size="19.03" fill="#3d3636" text-anchor="middle" textLength="51.4" lengthAdjust="spacingAndGlyphs">1e+05</text>
<line x1="583.7" y1="2353.7" x2="583.7" y2="2358.7" stroke="#231f1f" stroke-width="2.8"/>
<text x="591.7" y="2377.3" font-size="19.03" fill="#3d3636" text-anchor="middle" textLength="51.4" lengthAdjust="spacingAndGlyphs">2e+05</text>
<line x1="649.4" y1="2353.7" x2="649.4" y2="2358.7" stroke="#231f1f" stroke-width="2.8"/>
<text x="657.4" y="2377.3" font-size="19.03" fill="#3d3636" text-anchor="middle" textLength="51.4" lengthAdjust="spacingAndGlyphs">3e+05</text>
<line x1="713.7" y1="2353.7" x2="713.7" y2="2358.7" stroke="#231f1f" stroke-width="2.8"/>
<text x="721.7" y="2377.3" font-size="19.03" fill="#3d3636" text-anchor="middle" textLength="51.4" lengthAdjust="spacingAndGlyphs">4e+05</text>
<path d="M453.6 2352.5 C454.55 2347.35 457.17 2331.52 459.3 2321.6 C461.43 2311.68 463.53 2302.05 466.4 2293 C469.27 2283.95 472.43 2275.17 476.5 2267.3 C480.57 2259.43 485.08 2252.72 490.8 2245.8 C496.52 2238.88 503.18 2232.23 510.8 2225.8 C518.42 2219.37 526.97 2213.38 536.5 2207.2 C546.03 2201.02 557.03 2194.42 568 2188.7 C578.97 2182.98 590.87 2177.67 602.3 2172.9 C613.73 2168.13 625.17 2164.15 636.6 2160.1 C648.03 2156.05 659.47 2152.08 670.9 2148.6 C682.33 2145.12 693.77 2141.92 705.2 2139.2 C716.63 2136.48 730.43 2133.92 739.5 2132.3 C748.57 2130.68 756.25 2129.97 759.6 2129.5" fill="none" stroke="#97d06f" stroke-width="5.5" stroke-linecap="round" stroke-linejoin="round"/>
<path d="M453.6 2352.5 C454.32 2347.83 456.23 2333.93 457.9 2324.5 C459.57 2315.07 461.47 2304.95 463.6 2295.9 C465.73 2286.85 467.6 2278.78 470.7 2270.2 C473.8 2261.62 477.9 2252.27 482.2 2244.4 C486.5 2236.53 490.78 2230.15 496.5 2223 C502.22 2215.85 508.88 2208.42 516.5 2201.5 C524.12 2194.58 532.67 2187.93 542.2 2181.5 C551.73 2175.07 562.73 2168.62 573.7 2162.9 C584.67 2157.18 596.57 2151.97 608 2147.2 C619.43 2142.43 630.87 2138.35 642.3 2134.3 C653.73 2130.25 665.17 2126.38 676.6 2122.9 C688.03 2119.42 699.45 2116.12 710.9 2113.4 C722.35 2110.68 737.18 2108.22 745.3 2106.6 C753.42 2104.98 757.22 2104.18 759.6 2103.7" fill="none" stroke="#7a2a92" stroke-width="5.8" stroke-linecap="round" stroke-linejoin="round"/>
<line x1="453.3" y1="2405.6" x2="453.3" y2="2685.9" stroke="#111111" stroke-width="3.2"/>
<line x1="441.9" y1="2674.9" x2="775.9" y2="2674.9" stroke="#111111" stroke-width="3.4"/>
<line x1="447.3" y1="2465.3" x2="453.3" y2="2465.3" stroke="#231f1f" stroke-width="2.6"/>
<text x="446.2" y="2471.7" font-size="19.03" fill="#3d3636" text-anchor="end" textLength="40.71" lengthAdjust="spacingAndGlyphs">9000</text>
<line x1="447.3" y1="2535.3" x2="453.3" y2="2535.3" stroke="#231f1f" stroke-width="2.6"/>
<text x="446.2" y="2541.7" font-size="19.03" fill="#3d3636" text-anchor="end" textLength="40.71" lengthAdjust="spacingAndGlyphs">6000</text>
<line x1="447.3" y1="2604.9" x2="453.3" y2="2604.9" stroke="#231f1f" stroke-width="2.6"/>
<text x="446.2" y="2611.3" font-size="19.03" fill="#3d3636" text-anchor="end" textLength="40.71" lengthAdjust="spacingAndGlyphs">3000</text>
<line x1="447.3" y1="2674.9" x2="453.3" y2="2674.9" stroke="#231f1f" stroke-width="2.6"/>
<text x="424.9" y="2681.3" font-size="19.03" fill="#3d3636" text-anchor="middle" textLength="10.18" lengthAdjust="spacingAndGlyphs">0</text>
<line x1="517.2" y1="2674.9" x2="517.2" y2="2679.9" stroke="#231f1f" stroke-width="2.8"/>
<text x="525.2" y="2699.6" font-size="19.03" fill="#3d3636" text-anchor="middle" textLength="51.4" lengthAdjust="spacingAndGlyphs">1e+05</text>
<line x1="582.3" y1="2674.9" x2="582.3" y2="2679.9" stroke="#231f1f" stroke-width="2.8"/>
<text x="590.3" y="2699.6" font-size="19.03" fill="#3d3636" text-anchor="middle" textLength="51.4" lengthAdjust="spacingAndGlyphs">2e+05</text>
<line x1="647.6" y1="2674.9" x2="647.6" y2="2679.9" stroke="#231f1f" stroke-width="2.8"/>
<text x="655.6" y="2699.6" font-size="19.03" fill="#3d3636" text-anchor="middle" textLength="51.4" lengthAdjust="spacingAndGlyphs">3e+05</text>
<line x1="712" y1="2674.9" x2="712" y2="2679.9" stroke="#231f1f" stroke-width="2.8"/>
<text x="720" y="2699.6" font-size="19.03" fill="#3d3636" text-anchor="middle" textLength="51.4" lengthAdjust="spacingAndGlyphs">4e+05</text>
<path d="M453.6 2673.8 C454.32 2668.55 456 2653.73 457.9 2642.3 C459.8 2630.87 462.38 2616.63 465 2605.2 C467.62 2593.77 470.27 2583.23 473.6 2573.7 C476.93 2564.17 480.72 2555.62 485 2548 C489.28 2540.38 493.57 2534.43 499.3 2528 C505.03 2521.57 511.77 2515.6 519.4 2509.4 C527.03 2503.2 535.58 2497.23 545.1 2490.8 C554.62 2484.37 565.53 2476.52 576.5 2470.8 C587.47 2465.08 599.45 2460.8 610.9 2456.5 C622.35 2452.2 633.77 2448.43 645.2 2445 C656.63 2441.57 668.07 2438.52 679.5 2435.9 C690.93 2433.28 700.45 2431.68 713.8 2429.3 C727.15 2426.92 751.97 2422.88 759.6 2421.6" fill="none" stroke="#97d06f" stroke-width="5.5" stroke-linecap="round" stroke-linejoin="round"/>
<path d="M453.6 2673.8 C454.32 2668.55 456 2653.73 457.9 2642.3 C459.8 2630.87 462.38 2616.63 465 2605.2 C467.62 2593.77 470.27 2583.72 473.6 2573.7 C476.93 2563.68 480.72 2553.2 485 2545.1 C489.28 2537 493.57 2531.77 499.3 2525.1 C505.03 2518.43 511.77 2511.77 519.4 2505.1 C527.03 2498.43 535.58 2492.02 545.1 2485.1 C554.62 2478.18 565.53 2469.8 576.5 2463.6 C587.47 2457.4 599.45 2452.67 610.9 2447.9 C622.35 2443.13 633.77 2439.05 645.2 2435 C656.63 2430.95 669.5 2426.32 679.5 2423.6 C689.5 2420.88 697.1 2419.57 705.2 2418.7 C713.3 2417.83 721.42 2418.3 728.1 2418.4 C734.78 2418.5 740.05 2419.25 745.3 2419.3 C750.55 2419.35 757.22 2418.8 759.6 2418.7" fill="none" stroke="#7a2a92" stroke-width="5.8" stroke-linecap="round" stroke-linejoin="round"/>
<text x="541.4" y="2739" font-size="24.5" fill="#111" textLength="164.1" lengthAdjust="spacingAndGlyphs">Number of reads</text>
<line x1="843.3" y1="1763.5" x2="843.3" y2="2044" stroke="#111111" stroke-width="3.2"/>
<line x1="834.3" y1="2033" x2="1162.4" y2="2033" stroke="#111111" stroke-width="3.4"/>
<line x1="837.3" y1="1772.4" x2="843.3" y2="1772.4" stroke="#231f1f" stroke-width="2.6"/>
<text x="838.5" y="1778.8" font-size="19.03" fill="#3d3636" text-anchor="end" textLength="30.53" lengthAdjust="spacingAndGlyphs">100</text>
<line x1="837.3" y1="1813.2" x2="843.3" y2="1813.2" stroke="#231f1f" stroke-width="2.6"/>
<text x="838.5" y="1819.6" font-size="19.03" fill="#3d3636" text-anchor="end" textLength="20.36" lengthAdjust="spacingAndGlyphs">10</text>
<line x1="837.3" y1="1854.7" x2="843.3" y2="1854.7" stroke="#231f1f" stroke-width="2.6"/>
<text x="838.5" y="1861.1" font-size="19.03" fill="#3d3636" text-anchor="end" textLength="10.18" lengthAdjust="spacingAndGlyphs">1</text>
<line x1="837.3" y1="1895.5" x2="843.3" y2="1895.5" stroke="#231f1f" stroke-width="2.6"/>
<text x="838.5" y="1901.9" font-size="19.03" fill="#3d3636" text-anchor="end" textLength="25.44" lengthAdjust="spacingAndGlyphs">0.1</text>
<line x1="837.3" y1="1936.2" x2="843.3" y2="1936.2" stroke="#231f1f" stroke-width="2.6"/>
<text x="838.5" y="1942.6" font-size="19.03" fill="#3d3636" text-anchor="end" textLength="35.62" lengthAdjust="spacingAndGlyphs">0.01</text>
<line x1="837.3" y1="1978.1" x2="843.3" y2="1978.1" stroke="#231f1f" stroke-width="2.6"/>
<text x="838.5" y="1984.5" font-size="19.03" fill="#3d3636" text-anchor="end" textLength="45.79" lengthAdjust="spacingAndGlyphs">0.001</text>
<line x1="859.6" y1="2033" x2="859.6" y2="2038" stroke="#231f1f" stroke-width="2.8"/>
<text x="860.4" y="2058.5" font-size="19.24" fill="#3d3636" text-anchor="middle" textLength="10.29" lengthAdjust="spacingAndGlyphs">0</text>
<line x1="950.8" y1="2033" x2="950.8" y2="2038" stroke="#231f1f" stroke-width="2.8"/>
<text x="952.3" y="2058.5" font-size="19.24" fill="#3d3636" text-anchor="middle" textLength="41.16" lengthAdjust="spacingAndGlyphs">4000</text>
<line x1="1042" y1="2033" x2="1042" y2="2038" stroke="#231f1f" stroke-width="2.8"/>
<text x="1044.5" y="2058.5" font-size="19.24" fill="#3d3636" text-anchor="middle" textLength="41.16" lengthAdjust="spacingAndGlyphs">8000</text>
<line x1="1133.3" y1="2033" x2="1133.3" y2="2038" stroke="#231f1f" stroke-width="2.8"/>
<text x="1139.3" y="2058.5" font-size="19.24" fill="#3d3636" text-anchor="middle" textLength="51.44" lengthAdjust="spacingAndGlyphs">12000</text>
<line x1="843.4" y1="2081.8" x2="843.4" y2="2364.7" stroke="#111111" stroke-width="3.2"/>
<line x1="833.5" y1="2353.7" x2="1162.9" y2="2353.7" stroke="#111111" stroke-width="3.4"/>
<line x1="837.4" y1="2091.7" x2="843.4" y2="2091.7" stroke="#231f1f" stroke-width="2.6"/>
<text x="838.5" y="2098.1" font-size="19.03" fill="#3d3636" text-anchor="end" textLength="30.53" lengthAdjust="spacingAndGlyphs">100</text>
<line x1="837.4" y1="2134.2" x2="843.4" y2="2134.2" stroke="#231f1f" stroke-width="2.6"/>
<text x="838.5" y="2140.6" font-size="19.03" fill="#3d3636" text-anchor="end" textLength="20.36" lengthAdjust="spacingAndGlyphs">10</text>
<line x1="837.4" y1="2176.3" x2="843.4" y2="2176.3" stroke="#231f1f" stroke-width="2.6"/>
<text x="838.5" y="2182.7" font-size="19.03" fill="#3d3636" text-anchor="end" textLength="10.18" lengthAdjust="spacingAndGlyphs">1</text>
<line x1="837.4" y1="2218.7" x2="843.4" y2="2218.7" stroke="#231f1f" stroke-width="2.6"/>
<text x="838.5" y="2225.1" font-size="19.03" fill="#3d3636" text-anchor="end" textLength="25.44" lengthAdjust="spacingAndGlyphs">0.1</text>
<line x1="837.4" y1="2261.2" x2="843.4" y2="2261.2" stroke="#231f1f" stroke-width="2.6"/>
<text x="838.5" y="2267.6" font-size="19.03" fill="#3d3636" text-anchor="end" textLength="35.62" lengthAdjust="spacingAndGlyphs">0.01</text>
<line x1="837.4" y1="2302.9" x2="843.4" y2="2302.9" stroke="#231f1f" stroke-width="2.6"/>
<text x="838.5" y="2309.3" font-size="19.03" fill="#3d3636" text-anchor="end" textLength="45.79" lengthAdjust="spacingAndGlyphs">0.001</text>
<line x1="859.3" y1="2353.7" x2="859.3" y2="2358.7" stroke="#231f1f" stroke-width="2.8"/>
<text x="860.1" y="2377.7" font-size="19.24" fill="#3d3636" text-anchor="middle" textLength="10.29" lengthAdjust="spacingAndGlyphs">0</text>
<line x1="951.8" y1="2353.7" x2="951.8" y2="2358.7" stroke="#231f1f" stroke-width="2.8"/>
<text x="953.3" y="2377.7" font-size="19.24" fill="#3d3636" text-anchor="middle" textLength="41.16" lengthAdjust="spacingAndGlyphs">4000</text>
<line x1="1043.8" y1="2353.7" x2="1043.8" y2="2358.7" stroke="#231f1f" stroke-width="2.8"/>
<text x="1046.3" y="2377.7" font-size="19.24" fill="#3d3636" text-anchor="middle" textLength="41.16" lengthAdjust="spacingAndGlyphs">8000</text>
<line x1="1135.9" y1="2353.7" x2="1135.9" y2="2358.7" stroke="#231f1f" stroke-width="2.8"/>
<text x="1141.9" y="2377.7" font-size="19.24" fill="#3d3636" text-anchor="middle" textLength="51.44" lengthAdjust="spacingAndGlyphs">12000</text>
<line x1="843.4" y1="2405.8" x2="843.4" y2="2686.7" stroke="#111111" stroke-width="3.2"/>
<line x1="833.5" y1="2675.7" x2="1160.1" y2="2675.7" stroke="#111111" stroke-width="3.4"/>
<line x1="837.4" y1="2416.5" x2="843.4" y2="2416.5" stroke="#231f1f" stroke-width="2.6"/>
<text x="838.5" y="2422.9" font-size="19.03" fill="#3d3636" text-anchor="end" textLength="30.53" lengthAdjust="spacingAndGlyphs">100</text>
<line x1="837.4" y1="2458.2" x2="843.4" y2="2458.2" stroke="#231f1f" stroke-width="2.6"/>
<text x="838.5" y="2464.6" font-size="19.03" fill="#3d3636" text-anchor="end" textLength="20.36" lengthAdjust="spacingAndGlyphs">10</text>
<line x1="837.4" y1="2500.3" x2="843.4" y2="2500.3" stroke="#231f1f" stroke-width="2.6"/>
<text x="838.5" y="2506.7" font-size="19.03" fill="#3d3636" text-anchor="end" textLength="10.18" lengthAdjust="spacingAndGlyphs">1</text>
<line x1="837.4" y1="2542.7" x2="843.4" y2="2542.7" stroke="#231f1f" stroke-width="2.6"/>
<text x="838.5" y="2549.1" font-size="19.03" fill="#3d3636" text-anchor="end" textLength="25.44" lengthAdjust="spacingAndGlyphs">0.1</text>
<line x1="837.4" y1="2585.2" x2="843.4" y2="2585.2" stroke="#231f1f" stroke-width="2.6"/>
<text x="838.5" y="2591.6" font-size="19.03" fill="#3d3636" text-anchor="end" textLength="35.62" lengthAdjust="spacingAndGlyphs">0.01</text>
<line x1="837.4" y1="2628" x2="843.4" y2="2628" stroke="#231f1f" stroke-width="2.6"/>
<text x="838.5" y="2634.4" font-size="19.03" fill="#3d3636" text-anchor="end" textLength="45.79" lengthAdjust="spacingAndGlyphs">0.001</text>
<line x1="859.3" y1="2675.7" x2="859.3" y2="2680.7" stroke="#231f1f" stroke-width="2.8"/>
<text x="860.1" y="2699.7" font-size="19.24" fill="#3d3636" text-anchor="middle" textLength="10.29" lengthAdjust="spacingAndGlyphs">0</text>
<line x1="950.6" y1="2675.7" x2="950.6" y2="2680.7" stroke="#231f1f" stroke-width="2.8"/>
<text x="952.1" y="2699.7" font-size="19.24" fill="#3d3636" text-anchor="middle" textLength="41.16" lengthAdjust="spacingAndGlyphs">4000</text>
<line x1="1043" y1="2675.7" x2="1043" y2="2680.7" stroke="#231f1f" stroke-width="2.8"/>
<text x="1045.5" y="2699.7" font-size="19.24" fill="#3d3636" text-anchor="middle" textLength="41.16" lengthAdjust="spacingAndGlyphs">8000</text>
<line x1="1135.1" y1="2675.7" x2="1135.1" y2="2680.7" stroke="#231f1f" stroke-width="2.8"/>
<text x="1141.1" y="2699.7" font-size="19.24" fill="#3d3636" text-anchor="middle" textLength="51.44" lengthAdjust="spacingAndGlyphs">12000</text>
<path d="M858.7 1799.4 L858.7 1877 C859.05 1881.17 859.3 1894.83 860.8 1902 C862.3 1909.17 865.17 1915.15 867.7 1920 C870.23 1924.85 872.53 1927.4 876 1931.1 C879.47 1934.8 884.1 1938.62 888.5 1942.2 C892.9 1945.78 897.77 1949.48 902.4 1952.6 C907.03 1955.72 911.68 1958.23 916.3 1960.9 C920.92 1963.57 927.8 1967.32 930.1 1968.6 L934.6 1968.6 L934.6 1970.61 L939.1 1970.61 L939.1 1972.61 L943.6 1972.61 L943.6 1974.62 L948.39 1974.62 L948.39 1976.54 L953.57 1976.54 L953.57 1978.59 L959.17 1978.59 L959.17 1980.75 L965.23 1980.75 L965.23 1982.9 L971.77 1982.9 L971.77 1985.22 L978.85 1985.22 L978.85 1987.36 L986.49 1987.36 L986.49 1989.65 L994.76 1989.65 L994.76 1991.95 L1003.7 1991.95 L1003.7 1995.09 L1013.36 1995.09 L1013.36 1995.2 L1020.2 1995.2 L1020.2 1995.2 L1020.2 2000.7 L1045.1 2000.7 L1045.1 2008.2 L1086.3 2008.2 L1086.3 2019.1 L1134 2019.1" fill="none" stroke="#97d06f" stroke-width="6.4" stroke-linejoin="miter"/>
<path d="M858.7 1809.4 L858.7 1866 C859.05 1870.15 859.75 1883.97 860.8 1890.9 C861.85 1897.83 863.15 1902.75 865 1907.6 C866.85 1912.45 869.13 1916.08 871.9 1920 C874.67 1923.92 877.67 1927.4 881.6 1931.1 C885.53 1934.8 890.88 1938.73 895.5 1942.2 C900.12 1945.67 904.68 1948.9 909.3 1951.9 C913.92 1954.9 918.57 1957.65 923.2 1960.2 C927.83 1962.75 934.78 1966.03 937.1 1967.2 L941.6 1967.2 L941.6 1968.99 L946.1 1968.99 L946.1 1970.79 L950.71 1970.79 L950.71 1972.62 L955.75 1972.62 L955.75 1974.17 L961.29 1974.17 L961.29 1975.84 L967.35 1975.84 L967.35 1977.79 L974 1977.79 L974 1980.1 L981.28 1980.1 L981.28 1982.37 L989.26 1982.37 L989.26 1984.38 L998.01 1984.38 L998.01 1986.01 L1007.6 1986.01 L1007.6 1986.48 L1012.7 1986.48 L1012.7 1986.6 L1012.7 1993.1 L1039.7 1993.1 L1039.7 2001.3 L1085.2 2001.3 L1085.2 2013.2 L1138.3 2013.2" fill="none" stroke="#7a2a92" stroke-width="5.6" stroke-linejoin="miter"/>
<path d="M858.7 2116.6 L858.7 2197 C859.05 2201.63 859.3 2217.17 860.8 2224.8 C862.3 2232.43 865.17 2237.72 867.7 2242.8 C870.23 2247.88 872.98 2251.6 876 2255.3 C879.02 2259 882.1 2261.77 885.8 2265 C889.5 2268.23 894.28 2271.93 898.2 2274.7 C902.12 2277.47 905.13 2279.17 909.3 2281.6 C913.47 2284.03 920.88 2288.02 923.2 2289.3 L927.7 2289.3 L927.7 2291.31 L932.2 2291.31 L932.2 2293.31 L936.7 2293.31 L936.7 2295.32 L941.33 2295.32 L941.33 2297.4 L946.34 2297.4 L946.34 2299.65 L951.74 2299.65 L951.74 2302.08 L957.56 2302.08 L957.56 2304.72 L963.85 2304.72 L963.85 2307.57 L970.64 2307.57 L970.64 2310.03 L977.96 2310.03 L977.96 2312.58 L985.87 2312.58 L985.87 2315.33 L994.4 2315.33 L994.4 2318.3 L1003.61 2318.3 L1003.61 2320.87 L1013.55 2320.87 L1013.55 2323.21 L1017 2323.21 L1017 2323.9 L1017 2328.2 L1059.2 2328.2 L1059.2 2339.1 L1105.8 2339.1" fill="none" stroke="#97d06f" stroke-width="6.4" stroke-linejoin="miter"/>
<path d="M858.7 2134 L858.7 2183.2 C858.93 2187.82 859.28 2203.5 860.1 2210.9 C860.92 2218.3 862.1 2222.75 863.6 2227.6 C865.1 2232.45 867.03 2236.32 869.1 2240 C871.17 2243.68 873.45 2246.68 876 2249.7 C878.55 2252.72 881.15 2255.32 884.4 2258.1 C887.65 2260.88 891.35 2263.52 895.5 2266.4 C899.65 2269.28 904.68 2272.63 909.3 2275.4 C913.92 2278.17 918.57 2280.68 923.2 2283 C927.83 2285.32 934.78 2288.25 937.1 2289.3 L941.6 2289.3 L941.6 2291.32 L946.1 2291.32 L946.1 2293.34 L950.7 2293.34 L950.7 2295.41 L955.7 2295.41 L955.7 2297.4 L961.14 2297.4 L961.14 2299.55 L967.07 2299.55 L967.07 2301.8 L973.51 2301.8 L973.51 2304.09 L980.53 2304.09 L980.53 2306.57 L988.16 2306.57 L988.16 2309.2 L996.47 2309.2 L996.47 2311.2 L1005.51 2311.2 L1005.51 2311.88 L1015.34 2311.88 L1015.34 2312.34 L1018.7 2312.34 L1018.7 2312.5 L1018.7 2319.6 L1043 2319.6 L1043 2327.6 L1083.7 2327.6 L1083.7 2340.6 L1136.1 2340.6" fill="none" stroke="#7a2a92" stroke-width="5.6" stroke-linejoin="miter"/>
<path d="M858.7 2460.9 L858.7 2517.1 C859.05 2521.48 859.53 2536.25 860.8 2543.4 C862.07 2550.55 863.98 2555.15 866.3 2560 C868.62 2564.85 871.45 2568.57 874.7 2572.5 C877.95 2576.43 881.65 2580.13 885.8 2583.6 C889.95 2587.07 894.98 2590.3 899.6 2593.3 C904.22 2596.3 908.88 2599.05 913.5 2601.6 C918.12 2604.15 922.68 2606.4 927.3 2608.6 C931.92 2610.8 938.88 2613.77 941.2 2614.8 L945.7 2614.8 L945.7 2616.39 L950.2 2616.39 L950.2 2617.97 L954.72 2617.97 L954.72 2619.56 L959.62 2619.56 L959.62 2621.27 L964.93 2621.27 L964.93 2623.12 L970.7 2623.12 L970.7 2625.13 L976.95 2625.13 L976.95 2627.34 L983.74 2627.34 L983.74 2629.72 L991.09 2629.72 L991.09 2632.26 L999.08 2632.26 L999.08 2634.52 L1007.74 2634.52 L1007.74 2635.69 L1017.13 2635.69 L1017.13 2636.21 L1026.7 2636.21 L1026.7 2636.5 L1026.7 2643.1 L1061.4 2643.1 L1061.4 2656.5 L1106.9 2656.5" fill="none" stroke="#97d06f" stroke-width="6.4" stroke-linejoin="miter"/>
<path d="M858.7 2469.2 L858.7 2517.1 C859.05 2521.25 859.53 2535.08 860.8 2542 C862.07 2548.92 863.98 2553.75 866.3 2558.6 C868.62 2563.45 871.45 2567.17 874.7 2571.1 C877.95 2575.03 881.65 2578.73 885.8 2582.2 C889.95 2585.67 894.98 2588.9 899.6 2591.9 C904.22 2594.9 908.88 2597.65 913.5 2600.2 C918.12 2602.75 922.68 2605 927.3 2607.2 C931.92 2609.4 938.88 2612.37 941.2 2613.4 L945.7 2613.4 L945.7 2614.99 L950.2 2614.99 L950.2 2616.57 L954.72 2616.57 L954.72 2618.16 L959.61 2618.16 L959.61 2619.87 L964.91 2619.87 L964.91 2621.71 L970.66 2621.71 L970.66 2623.72 L976.89 2623.72 L976.89 2625.92 L983.63 2625.92 L983.63 2628.29 L990.94 2628.29 L990.94 2630.81 L998.86 2630.81 L998.86 2633.17 L1007.44 2633.17 L1007.44 2634.65 L1016.74 2634.65 L1016.74 2635.54 L1027.8 2635.54 L1027.8 2636.5 L1027.8 2643.1 L1054.9 2643.1 L1054.9 2651.1 L1097.1 2651.1 L1097.1 2663 L1144.8 2663" fill="none" stroke="#7a2a92" stroke-width="5.6" stroke-linejoin="miter"/>
<text x="989.6" y="1779" font-size="22" fill="#111" textLength="30.8" lengthAdjust="spacingAndGlyphs">PC</text>
<rect x="982.1" y="1786.8" width="11.1" height="20.5" fill="#97d06f" stroke="none" stroke-width="0"/>
<rect x="982.1" y="1812" width="11.1" height="20.2" fill="#7a2a92" stroke="none" stroke-width="0"/>
<text x="996.6" y="1806.2" font-size="20" fill="#111" textLength="130.1" lengthAdjust="spacingAndGlyphs">2 (LG - <tspan font-style="italic">in situ</tspan>)</text>
<text x="996.6" y="1828.7" font-size="20" fill="#111" textLength="114.2" lengthAdjust="spacingAndGlyphs">4 (LG - <tspan font-style="italic">ship</tspan>)</text>
<text x="990.3" y="2099.7" font-size="22" fill="#111" textLength="30.8" lengthAdjust="spacingAndGlyphs">PC</text>
<rect x="982.6" y="2108.4" width="12.1" height="19.1" fill="#97d06f" stroke="none" stroke-width="0"/>
<rect x="982.6" y="2132.6" width="12.1" height="19.9" fill="#7a2a92" stroke="none" stroke-width="0"/>
<text x="998.2" y="2125.5" font-size="20" fill="#111" textLength="127.8" lengthAdjust="spacingAndGlyphs">5 (LG - <tspan font-style="italic">in situ</tspan>)</text>
<text x="998.2" y="2149.3" font-size="20" fill="#111" textLength="112" lengthAdjust="spacingAndGlyphs">6 (LG - <tspan font-style="italic">ship</tspan>)</text>
<text x="990.3" y="2421.7" font-size="22" fill="#111" textLength="30.8" lengthAdjust="spacingAndGlyphs">PC</text>
<rect x="981.8" y="2430.8" width="12.9" height="19.8" fill="#97d06f" stroke="none" stroke-width="0"/>
<rect x="981.8" y="2455.4" width="12.9" height="19.8" fill="#7a2a92" stroke="none" stroke-width="0"/>
<text x="998.2" y="2448.3" font-size="20" fill="#111" textLength="140.1" lengthAdjust="spacingAndGlyphs">11 (LG - <tspan font-style="italic">in situ</tspan>)</text>
<text x="998.2" y="2471.3" font-size="20" fill="#111" textLength="123" lengthAdjust="spacingAndGlyphs">13 (LG - <tspan font-style="italic">ship</tspan>)</text>
<text transform="translate(794.3 2166) rotate(-90)" font-size="26" fill="#111" text-anchor="middle" textLength="206" lengthAdjust="spacingAndGlyphs">Number of reads (%)</text>
<text x="930.7" y="2739" font-size="24.5" fill="#111" textLength="168.7" lengthAdjust="spacingAndGlyphs">Number of OTUs</text></svg>
</body></html>
